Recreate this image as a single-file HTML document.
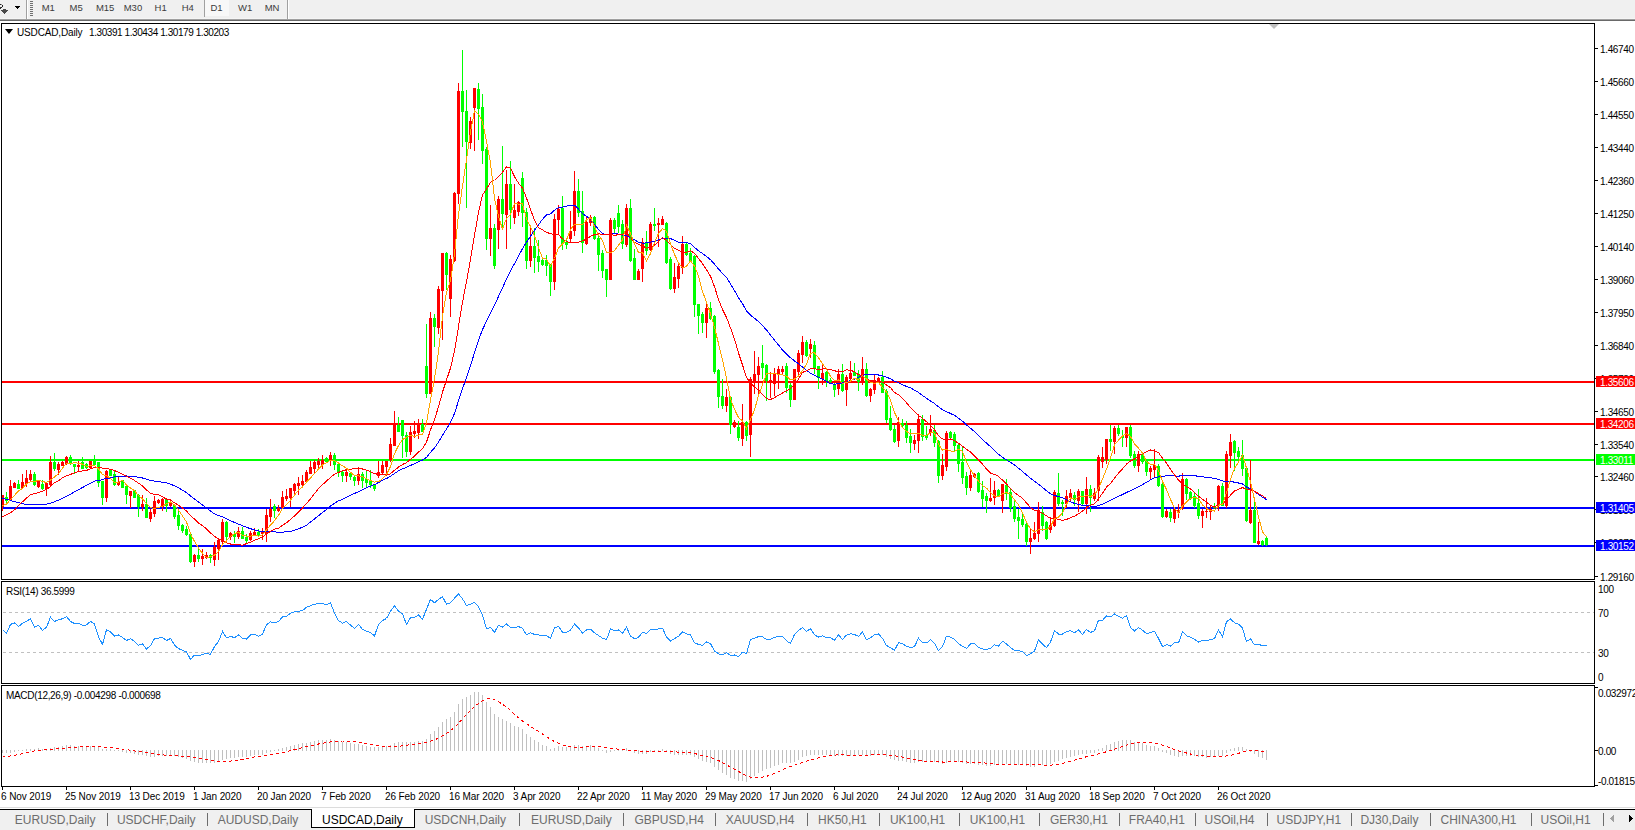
<!DOCTYPE html>
<html><head><meta charset="utf-8"><style>
html,body{margin:0;padding:0;width:1635px;height:830px;overflow:hidden;background:#fff;position:relative;font-family:"Liberation Sans", sans-serif}
.tbl{position:absolute;top:2px;font-size:9.5px;line-height:12px;color:#3c3c3c;white-space:nowrap}
.ax{position:absolute;font-size:10px;line-height:12px;color:#000;white-space:nowrap}
.tab{position:absolute;top:813px;font-size:12px;line-height:15px;white-space:nowrap}
</style></head><body>
<div style="position:absolute;left:0px;top:0px;width:1635px;height:19px;background:#f0f0f0;"></div><div style="position:absolute;left:0px;top:18px;width:1635px;height:1px;background:#f5f5f5;"></div><div style="position:absolute;left:0px;top:19px;width:1635px;height:1px;background:#a0a0a0;"></div><div style="position:absolute;left:0px;top:20px;width:1635px;height:1px;background:#696969;"></div><div style="position:absolute;left:0px;top:21px;width:1635px;height:2px;background:#ffffff;"></div><div style="position:absolute;left:26px;top:0px;width:1px;height:19px;background:#a0a0a0;"></div><div style="position:absolute;left:27px;top:0px;width:1px;height:19px;background:#ffffff;"></div><div style="position:absolute;left:287px;top:0px;width:1px;height:19px;background:#a0a0a0;"></div><div style="position:absolute;left:288px;top:0px;width:1px;height:19px;background:#ffffff;"></div><div style="position:absolute;left:204px;top:0px;width:1px;height:17px;background:#a0a0a0;"></div><div style="position:absolute;left:205px;top:0px;width:24px;height:16px;background:#f8f8f8;"></div><div style="position:absolute;left:30px;top:1px;width:3px;height:1px;background:#707070;"></div><div style="position:absolute;left:30px;top:3px;width:3px;height:1px;background:#707070;"></div><div style="position:absolute;left:30px;top:5px;width:3px;height:1px;background:#707070;"></div><div style="position:absolute;left:30px;top:7px;width:3px;height:1px;background:#707070;"></div><div style="position:absolute;left:30px;top:9px;width:3px;height:1px;background:#707070;"></div><div style="position:absolute;left:30px;top:11px;width:3px;height:1px;background:#707070;"></div><div style="position:absolute;left:30px;top:13px;width:3px;height:1px;background:#707070;"></div><div style="position:absolute;left:30px;top:15px;width:3px;height:1px;background:#707070;"></div><div style="position:absolute;left:15px;top:6px;width:5px;height:1px;background:#000;"></div><div style="position:absolute;left:16px;top:7px;width:3px;height:1px;background:#000;"></div><div style="position:absolute;left:17px;top:8px;width:1px;height:1px;background:#000;"></div><div style="position:absolute;left:0px;top:4px;width:1px;height:1px;background:#222;"></div><div style="position:absolute;left:1px;top:4px;width:1px;height:1px;background:#888;"></div><div style="position:absolute;left:2px;top:5px;width:1px;height:2px;background:#222;"></div><div style="position:absolute;left:1px;top:7px;width:1px;height:1px;background:#222;"></div><div style="position:absolute;left:0px;top:7px;width:1px;height:2px;background:#333;"></div><div style="position:absolute;left:3px;top:9px;width:3px;height:1px;background:#4a4a4a;"></div><div style="position:absolute;left:1px;top:10px;width:7px;height:1px;background:#4a4a4a;"></div><div style="position:absolute;left:2px;top:11px;width:5px;height:1px;background:#4a4a4a;"></div><div style="position:absolute;left:3px;top:12px;width:3px;height:1px;background:#4a4a4a;"></div><div style="position:absolute;left:4px;top:13px;width:1px;height:1px;background:#4a4a4a;"></div><div class="tbl" style="left:41.7px">M1</div><div class="tbl" style="left:69.5px">M5</div><div class="tbl" style="left:95.9px">M15</div><div class="tbl" style="left:123.7px">M30</div><div class="tbl" style="left:154.6px">H1</div><div class="tbl" style="left:181.7px">H4</div><div class="tbl" style="left:210.5px">D1</div><div class="tbl" style="left:238.0px">W1</div><div class="tbl" style="left:264.7px">MN</div><div style="position:absolute;left:0px;top:23px;width:1635px;height:764px;background:#ffffff;"></div><div style="position:absolute;left:1px;top:23px;width:1594px;height:1px;background:#000;"></div><div style="position:absolute;left:1px;top:579px;width:1594px;height:1px;background:#000;"></div><div style="position:absolute;left:1px;top:23px;width:1px;height:557px;background:#000;"></div><div style="position:absolute;left:1594px;top:23px;width:1px;height:557px;background:#000;"></div><div style="position:absolute;left:1px;top:581px;width:1594px;height:1px;background:#000;"></div><div style="position:absolute;left:1px;top:683px;width:1594px;height:1px;background:#000;"></div><div style="position:absolute;left:1px;top:581px;width:1px;height:103px;background:#000;"></div><div style="position:absolute;left:1594px;top:581px;width:1px;height:103px;background:#000;"></div><div style="position:absolute;left:1px;top:685px;width:1594px;height:1px;background:#000;"></div><div style="position:absolute;left:1px;top:786px;width:1594px;height:1px;background:#000;"></div><div style="position:absolute;left:1px;top:685px;width:1px;height:102px;background:#000;"></div><div style="position:absolute;left:1594px;top:685px;width:1px;height:102px;background:#000;"></div><div style="position:absolute;left:2px;top:787px;width:1px;height:3px;background:#000;"></div><div class="ax" style="left:1px;top:791px;letter-spacing:-0.1px">6 Nov 2019</div><div style="position:absolute;left:66px;top:787px;width:1px;height:3px;background:#000;"></div><div class="ax" style="left:65px;top:791px;letter-spacing:-0.1px">25 Nov 2019</div><div style="position:absolute;left:130px;top:787px;width:1px;height:3px;background:#000;"></div><div class="ax" style="left:129px;top:791px;letter-spacing:-0.1px">13 Dec 2019</div><div style="position:absolute;left:194px;top:787px;width:1px;height:3px;background:#000;"></div><div class="ax" style="left:193px;top:791px;letter-spacing:-0.1px">1 Jan 2020</div><div style="position:absolute;left:258px;top:787px;width:1px;height:3px;background:#000;"></div><div class="ax" style="left:257px;top:791px;letter-spacing:-0.1px">20 Jan 2020</div><div style="position:absolute;left:322px;top:787px;width:1px;height:3px;background:#000;"></div><div class="ax" style="left:321px;top:791px;letter-spacing:-0.1px">7 Feb 2020</div><div style="position:absolute;left:386px;top:787px;width:1px;height:3px;background:#000;"></div><div class="ax" style="left:385px;top:791px;letter-spacing:-0.1px">26 Feb 2020</div><div style="position:absolute;left:450px;top:787px;width:1px;height:3px;background:#000;"></div><div class="ax" style="left:449px;top:791px;letter-spacing:-0.1px">16 Mar 2020</div><div style="position:absolute;left:514px;top:787px;width:1px;height:3px;background:#000;"></div><div class="ax" style="left:513px;top:791px;letter-spacing:-0.1px">3 Apr 2020</div><div style="position:absolute;left:578px;top:787px;width:1px;height:3px;background:#000;"></div><div class="ax" style="left:577px;top:791px;letter-spacing:-0.1px">22 Apr 2020</div><div style="position:absolute;left:642px;top:787px;width:1px;height:3px;background:#000;"></div><div class="ax" style="left:641px;top:791px;letter-spacing:-0.1px">11 May 2020</div><div style="position:absolute;left:706px;top:787px;width:1px;height:3px;background:#000;"></div><div class="ax" style="left:705px;top:791px;letter-spacing:-0.1px">29 May 2020</div><div style="position:absolute;left:770px;top:787px;width:1px;height:3px;background:#000;"></div><div class="ax" style="left:769px;top:791px;letter-spacing:-0.1px">17 Jun 2020</div><div style="position:absolute;left:834px;top:787px;width:1px;height:3px;background:#000;"></div><div class="ax" style="left:833px;top:791px;letter-spacing:-0.1px">6 Jul 2020</div><div style="position:absolute;left:898px;top:787px;width:1px;height:3px;background:#000;"></div><div class="ax" style="left:897px;top:791px;letter-spacing:-0.1px">24 Jul 2020</div><div style="position:absolute;left:962px;top:787px;width:1px;height:3px;background:#000;"></div><div class="ax" style="left:961px;top:791px;letter-spacing:-0.1px">12 Aug 2020</div><div style="position:absolute;left:1026px;top:787px;width:1px;height:3px;background:#000;"></div><div class="ax" style="left:1025px;top:791px;letter-spacing:-0.1px">31 Aug 2020</div><div style="position:absolute;left:1090px;top:787px;width:1px;height:3px;background:#000;"></div><div class="ax" style="left:1089px;top:791px;letter-spacing:-0.1px">18 Sep 2020</div><div style="position:absolute;left:1154px;top:787px;width:1px;height:3px;background:#000;"></div><div class="ax" style="left:1153px;top:791px;letter-spacing:-0.1px">7 Oct 2020</div><div style="position:absolute;left:1218px;top:787px;width:1px;height:3px;background:#000;"></div><div class="ax" style="left:1217px;top:791px;letter-spacing:-0.1px">26 Oct 2020</div><div style="position:absolute;left:1595px;top:48px;width:3px;height:1px;background:#000;"></div><div class="ax" style="left:1600px;top:44px;letter-spacing:-0.35px">1.46740</div><div style="position:absolute;left:1595px;top:81px;width:3px;height:1px;background:#000;"></div><div class="ax" style="left:1600px;top:77px;letter-spacing:-0.35px">1.45660</div><div style="position:absolute;left:1595px;top:114px;width:3px;height:1px;background:#000;"></div><div class="ax" style="left:1600px;top:110px;letter-spacing:-0.35px">1.44550</div><div style="position:absolute;left:1595px;top:147px;width:3px;height:1px;background:#000;"></div><div class="ax" style="left:1600px;top:143px;letter-spacing:-0.35px">1.43440</div><div style="position:absolute;left:1595px;top:180px;width:3px;height:1px;background:#000;"></div><div class="ax" style="left:1600px;top:176px;letter-spacing:-0.35px">1.42360</div><div style="position:absolute;left:1595px;top:213px;width:3px;height:1px;background:#000;"></div><div class="ax" style="left:1600px;top:209px;letter-spacing:-0.35px">1.41250</div><div style="position:absolute;left:1595px;top:246px;width:3px;height:1px;background:#000;"></div><div class="ax" style="left:1600px;top:242px;letter-spacing:-0.35px">1.40140</div><div style="position:absolute;left:1595px;top:279px;width:3px;height:1px;background:#000;"></div><div class="ax" style="left:1600px;top:275px;letter-spacing:-0.35px">1.39060</div><div style="position:absolute;left:1595px;top:312px;width:3px;height:1px;background:#000;"></div><div class="ax" style="left:1600px;top:308px;letter-spacing:-0.35px">1.37950</div><div style="position:absolute;left:1595px;top:345px;width:3px;height:1px;background:#000;"></div><div class="ax" style="left:1600px;top:341px;letter-spacing:-0.35px">1.36840</div><div style="position:absolute;left:1595px;top:378px;width:3px;height:1px;background:#000;"></div><div class="ax" style="left:1600px;top:374px;letter-spacing:-0.35px">1.35730</div><div style="position:absolute;left:1595px;top:411px;width:3px;height:1px;background:#000;"></div><div class="ax" style="left:1600px;top:407px;letter-spacing:-0.35px">1.34650</div><div style="position:absolute;left:1595px;top:444px;width:3px;height:1px;background:#000;"></div><div class="ax" style="left:1600px;top:440px;letter-spacing:-0.35px">1.33540</div><div style="position:absolute;left:1595px;top:476px;width:3px;height:1px;background:#000;"></div><div class="ax" style="left:1600px;top:472px;letter-spacing:-0.35px">1.32460</div><div style="position:absolute;left:1595px;top:509px;width:3px;height:1px;background:#000;"></div><div class="ax" style="left:1600px;top:505px;letter-spacing:-0.35px">1.31380</div><div style="position:absolute;left:1595px;top:542px;width:3px;height:1px;background:#000;"></div><div class="ax" style="left:1600px;top:538px;letter-spacing:-0.35px">1.30270</div><div style="position:absolute;left:1595px;top:576px;width:3px;height:1px;background:#000;"></div><div class="ax" style="left:1600px;top:572px;letter-spacing:-0.35px">1.29160</div><div style="position:absolute;left:1596px;top:376px;width:39px;height:11px;background:#ff0000;"></div><div class="ax" style="left:1600px;top:377px;color:#fff;letter-spacing:-0.35px">1.35606</div><div style="position:absolute;left:1596px;top:418px;width:39px;height:11px;background:#ff0000;"></div><div class="ax" style="left:1600px;top:419px;color:#fff;letter-spacing:-0.35px">1.34206</div><div style="position:absolute;left:1596px;top:454px;width:39px;height:11px;background:#00ff00;"></div><div class="ax" style="left:1600px;top:455px;color:#fff;letter-spacing:-0.35px">1.33011</div><div style="position:absolute;left:1596px;top:502px;width:39px;height:11px;background:#0000ff;"></div><div class="ax" style="left:1600px;top:503px;color:#fff;letter-spacing:-0.35px">1.31405</div><div style="position:absolute;left:1596px;top:540px;width:39px;height:11px;background:#0000ff;"></div><div class="ax" style="left:1600px;top:541px;color:#fff;letter-spacing:-0.35px">1.30152</div><div class="ax" style="left:1598px;top:584px;letter-spacing:-0.35px">100</div><div class="ax" style="left:1598px;top:608px;letter-spacing:-0.35px">70</div><div class="ax" style="left:1598px;top:648px;letter-spacing:-0.35px">30</div><div class="ax" style="left:1598px;top:672px;letter-spacing:-0.35px">0</div><div class="ax" style="left:1598px;top:688px;letter-spacing:-0.35px">0.032972</div><div class="ax" style="left:1598px;top:746px;letter-spacing:-0.35px">0.00</div><div class="ax" style="left:1598px;top:776px;letter-spacing:-0.35px">-0.018154</div><div style="position:absolute;left:1595px;top:750px;width:3px;height:1px;background:#000;"></div><div style="position:absolute;left:1595px;top:687px;width:3px;height:1px;background:#000;"></div><div style="position:absolute;left:1595px;top:785px;width:3px;height:1px;background:#000;"></div><div style="position:absolute;left:5px;top:29px;width:0;height:0;border-left:4px solid transparent;border-right:4px solid transparent;border-top:5px solid #000"></div><div class="ax" style="left:17px;top:27px;letter-spacing:-0.15px">USDCAD,Daily</div><div class="ax" style="left:89px;top:27px;letter-spacing:-0.42px">1.30391 1.30434 1.30179 1.30203</div><div class="ax" style="left:6px;top:586px;letter-spacing:-0.32px">RSI(14) 36.5999</div><div class="ax" style="left:6px;top:690px;letter-spacing:-0.32px">MACD(12,26,9) -0.004298 -0.000698</div><div style="position:absolute;left:1269px;top:24px;width:0;height:0;border-left:5px solid transparent;border-right:5px solid transparent;border-top:5px solid #c0c0c0"></div><div style="position:absolute;left:0px;top:806px;width:1635px;height:24px;background:#f0f0f0;"></div><div style="position:absolute;left:0px;top:805px;width:1635px;height:2px;background:#ffffff;"></div><div style="position:absolute;left:0px;top:807px;width:1635px;height:1px;background:#dcdcdc;"></div><div style="position:absolute;left:0px;top:809px;width:1635px;height:1px;background:#000;"></div><div style="position:absolute;left:0px;top:808px;width:1635px;height:1px;background:#ffffff;"></div><div style="position:absolute;left:107px;top:813px;width:1px;height:13px;background:#6d6d6d;"></div><div style="position:absolute;left:207px;top:813px;width:1px;height:13px;background:#6d6d6d;"></div><div style="position:absolute;left:519px;top:813px;width:1px;height:13px;background:#6d6d6d;"></div><div style="position:absolute;left:623px;top:813px;width:1px;height:13px;background:#6d6d6d;"></div><div style="position:absolute;left:715px;top:813px;width:1px;height:13px;background:#6d6d6d;"></div><div style="position:absolute;left:807px;top:813px;width:1px;height:13px;background:#6d6d6d;"></div><div style="position:absolute;left:879px;top:813px;width:1px;height:13px;background:#6d6d6d;"></div><div style="position:absolute;left:959px;top:813px;width:1px;height:13px;background:#6d6d6d;"></div><div style="position:absolute;left:1039px;top:813px;width:1px;height:13px;background:#6d6d6d;"></div><div style="position:absolute;left:1119px;top:813px;width:1px;height:13px;background:#6d6d6d;"></div><div style="position:absolute;left:1195px;top:813px;width:1px;height:13px;background:#6d6d6d;"></div><div style="position:absolute;left:1267px;top:813px;width:1px;height:13px;background:#6d6d6d;"></div><div style="position:absolute;left:1351px;top:813px;width:1px;height:13px;background:#6d6d6d;"></div><div style="position:absolute;left:1430px;top:813px;width:1px;height:13px;background:#6d6d6d;"></div><div style="position:absolute;left:1531px;top:813px;width:1px;height:13px;background:#6d6d6d;"></div><div style="position:absolute;left:1603px;top:813px;width:1px;height:13px;background:#6d6d6d;"></div><div style="position:absolute;left:311px;top:809px;width:104px;height:19px;background:#ffffff;"></div><div style="position:absolute;left:311px;top:809px;width:1px;height:19px;background:#000;"></div><div style="position:absolute;left:414px;top:809px;width:1px;height:19px;background:#000;"></div><div style="position:absolute;left:311px;top:827px;width:104px;height:1px;background:#000;"></div><div style="position:absolute;left:312px;top:809px;width:102px;height:1px;background:#ffffff;"></div><div class="tab" style="left:14.8px;color:#6d6d6d">EURUSD,Daily</div><div class="tab" style="left:116.9px;color:#6d6d6d">USDCHF,Daily</div><div class="tab" style="left:217.7px;color:#6d6d6d">AUDUSD,Daily</div><div class="tab" style="left:322.0px;color:#000">USDCAD,Daily</div><div class="tab" style="left:424.7px;color:#6d6d6d">USDCNH,Daily</div><div class="tab" style="left:531.0px;color:#6d6d6d">EURUSD,Daily</div><div class="tab" style="left:634.5px;color:#6d6d6d">GBPUSD,H4</div><div class="tab" style="left:725.7px;color:#6d6d6d">XAUUSD,H4</div><div class="tab" style="left:818.0px;color:#6d6d6d">HK50,H1</div><div class="tab" style="left:889.9px;color:#6d6d6d">UK100,H1</div><div class="tab" style="left:969.8px;color:#6d6d6d">UK100,H1</div><div class="tab" style="left:1049.9px;color:#6d6d6d">GER30,H1</div><div class="tab" style="left:1128.8px;color:#6d6d6d">FRA40,H1</div><div class="tab" style="left:1204.5px;color:#6d6d6d">USOil,H4</div><div class="tab" style="left:1276.6px;color:#6d6d6d">USDJPY,H1</div><div class="tab" style="left:1360.4px;color:#6d6d6d">DJ30,Daily</div><div class="tab" style="left:1440.5px;color:#6d6d6d">CHINA300,H1</div><div class="tab" style="left:1540.6px;color:#6d6d6d">USOil,H1</div><div style="position:absolute;left:1613px;top:815px;width:1px;height:7px;background:#a0a0a0;"></div><div style="position:absolute;left:1629px;top:815px;width:1px;height:7px;background:#000;"></div><div style="position:absolute;left:1612px;top:816px;width:1px;height:5px;background:#a0a0a0;"></div><div style="position:absolute;left:1630px;top:816px;width:1px;height:5px;background:#000;"></div><div style="position:absolute;left:1611px;top:817px;width:1px;height:3px;background:#a0a0a0;"></div><div style="position:absolute;left:1631px;top:817px;width:1px;height:3px;background:#000;"></div><div style="position:absolute;left:1610px;top:818px;width:1px;height:1px;background:#a0a0a0;"></div><div style="position:absolute;left:1632px;top:818px;width:1px;height:1px;background:#000;"></div><svg style="position:absolute;left:0;top:0" width="1635" height="830" shape-rendering="crispEdges">
<defs><clipPath id="cm"><rect x="2" y="24" width="1592" height="555"/></clipPath><clipPath id="cr"><rect x="2" y="582" width="1592" height="101"/></clipPath><clipPath id="cd"><rect x="2" y="686" width="1592" height="100"/></clipPath></defs>
<g clip-path="url(#cm)">
<rect x="2" y="381" width="1592" height="2" fill="#ff0000"/>
<rect x="2" y="423" width="1592" height="2" fill="#ff0000"/>
<rect x="2" y="459" width="1592" height="2" fill="#00ff00"/>
<rect x="2" y="507" width="1592" height="2" fill="#0000ff"/>
<rect x="2" y="545" width="1592" height="2" fill="#0000ff"/>
<rect x="2" y="495" width="1" height="16" fill="#ff0000"/>
<rect x="1" y="495" width="3" height="12" fill="#ff0000"/>
<rect x="6" y="492" width="1" height="12" fill="#00ff00"/>
<rect x="5" y="497" width="3" height="4" fill="#00ff00"/>
<rect x="10" y="480" width="1" height="20" fill="#ff0000"/>
<rect x="9" y="486" width="3" height="14" fill="#ff0000"/>
<rect x="14" y="482" width="1" height="6" fill="#ff0000"/>
<rect x="13" y="483" width="3" height="5" fill="#ff0000"/>
<rect x="18" y="480" width="1" height="9" fill="#00ff00"/>
<rect x="17" y="484" width="3" height="5" fill="#00ff00"/>
<rect x="22" y="474" width="1" height="15" fill="#ff0000"/>
<rect x="21" y="482" width="3" height="6" fill="#ff0000"/>
<rect x="26" y="470" width="1" height="17" fill="#ff0000"/>
<rect x="25" y="478" width="3" height="6" fill="#ff0000"/>
<rect x="30" y="470" width="1" height="12" fill="#ff0000"/>
<rect x="29" y="474" width="3" height="6" fill="#ff0000"/>
<rect x="34" y="472" width="1" height="14" fill="#00ff00"/>
<rect x="33" y="474" width="3" height="11" fill="#00ff00"/>
<rect x="38" y="481" width="1" height="7" fill="#ff0000"/>
<rect x="37" y="481" width="3" height="6" fill="#ff0000"/>
<rect x="42" y="480" width="1" height="10" fill="#00ff00"/>
<rect x="41" y="484" width="3" height="5" fill="#00ff00"/>
<rect x="46" y="483" width="1" height="13" fill="#ff0000"/>
<rect x="45" y="483" width="3" height="6" fill="#ff0000"/>
<rect x="50" y="456" width="1" height="30" fill="#ff0000"/>
<rect x="49" y="462" width="3" height="23" fill="#ff0000"/>
<rect x="54" y="453" width="1" height="18" fill="#00ff00"/>
<rect x="53" y="462" width="3" height="7" fill="#00ff00"/>
<rect x="58" y="462" width="1" height="13" fill="#ff0000"/>
<rect x="57" y="464" width="3" height="6" fill="#ff0000"/>
<rect x="62" y="461" width="1" height="5" fill="#ff0000"/>
<rect x="61" y="462" width="3" height="4" fill="#ff0000"/>
<rect x="66" y="456" width="1" height="9" fill="#ff0000"/>
<rect x="65" y="457" width="3" height="7" fill="#ff0000"/>
<rect x="70" y="455" width="1" height="10" fill="#00ff00"/>
<rect x="69" y="457" width="3" height="7" fill="#00ff00"/>
<rect x="74" y="464" width="1" height="10" fill="#00ff00"/>
<rect x="73" y="464" width="3" height="3" fill="#00ff00"/>
<rect x="78" y="461" width="1" height="10" fill="#ff0000"/>
<rect x="77" y="465" width="3" height="2" fill="#ff0000"/>
<rect x="82" y="457" width="1" height="12" fill="#00ff00"/>
<rect x="81" y="462" width="3" height="7" fill="#00ff00"/>
<rect x="86" y="463" width="1" height="6" fill="#00ff00"/>
<rect x="85" y="464" width="3" height="4" fill="#00ff00"/>
<rect x="90" y="461" width="1" height="8" fill="#ff0000"/>
<rect x="89" y="461" width="3" height="7" fill="#ff0000"/>
<rect x="94" y="455" width="1" height="11" fill="#00ff00"/>
<rect x="93" y="461" width="3" height="4" fill="#00ff00"/>
<rect x="98" y="462" width="1" height="25" fill="#00ff00"/>
<rect x="97" y="462" width="3" height="21" fill="#00ff00"/>
<rect x="102" y="481" width="1" height="24" fill="#00ff00"/>
<rect x="101" y="481" width="3" height="17" fill="#00ff00"/>
<rect x="106" y="470" width="1" height="32" fill="#ff0000"/>
<rect x="105" y="471" width="3" height="27" fill="#ff0000"/>
<rect x="110" y="470" width="1" height="6" fill="#00ff00"/>
<rect x="109" y="470" width="3" height="6" fill="#00ff00"/>
<rect x="114" y="471" width="1" height="15" fill="#00ff00"/>
<rect x="113" y="474" width="3" height="11" fill="#00ff00"/>
<rect x="118" y="477" width="1" height="9" fill="#ff0000"/>
<rect x="117" y="482" width="3" height="3" fill="#ff0000"/>
<rect x="122" y="480" width="1" height="8" fill="#00ff00"/>
<rect x="121" y="480" width="3" height="8" fill="#00ff00"/>
<rect x="126" y="486" width="1" height="18" fill="#00ff00"/>
<rect x="125" y="486" width="3" height="9" fill="#00ff00"/>
<rect x="130" y="491" width="1" height="17" fill="#ff0000"/>
<rect x="129" y="491" width="3" height="5" fill="#ff0000"/>
<rect x="134" y="490" width="1" height="8" fill="#00ff00"/>
<rect x="133" y="490" width="3" height="8" fill="#00ff00"/>
<rect x="138" y="494" width="1" height="23" fill="#00ff00"/>
<rect x="137" y="495" width="3" height="12" fill="#00ff00"/>
<rect x="142" y="495" width="1" height="16" fill="#ff0000"/>
<rect x="141" y="504" width="3" height="3" fill="#ff0000"/>
<rect x="146" y="498" width="1" height="20" fill="#00ff00"/>
<rect x="145" y="504" width="3" height="14" fill="#00ff00"/>
<rect x="150" y="509" width="1" height="13" fill="#ff0000"/>
<rect x="149" y="512" width="3" height="7" fill="#ff0000"/>
<rect x="154" y="496" width="1" height="21" fill="#ff0000"/>
<rect x="153" y="501" width="3" height="13" fill="#ff0000"/>
<rect x="158" y="499" width="1" height="5" fill="#ff0000"/>
<rect x="157" y="500" width="3" height="3" fill="#ff0000"/>
<rect x="162" y="498" width="1" height="13" fill="#ff0000"/>
<rect x="161" y="499" width="3" height="8" fill="#ff0000"/>
<rect x="166" y="499" width="1" height="13" fill="#00ff00"/>
<rect x="165" y="499" width="3" height="7" fill="#00ff00"/>
<rect x="170" y="499" width="1" height="8" fill="#ff0000"/>
<rect x="169" y="502" width="3" height="4" fill="#ff0000"/>
<rect x="174" y="504" width="1" height="15" fill="#00ff00"/>
<rect x="173" y="505" width="3" height="12" fill="#00ff00"/>
<rect x="178" y="511" width="1" height="19" fill="#00ff00"/>
<rect x="177" y="515" width="3" height="11" fill="#00ff00"/>
<rect x="182" y="524" width="1" height="9" fill="#00ff00"/>
<rect x="181" y="525" width="3" height="6" fill="#00ff00"/>
<rect x="186" y="526" width="1" height="10" fill="#00ff00"/>
<rect x="185" y="529" width="3" height="6" fill="#00ff00"/>
<rect x="190" y="534" width="1" height="29" fill="#00ff00"/>
<rect x="189" y="534" width="3" height="28" fill="#00ff00"/>
<rect x="194" y="554" width="1" height="13" fill="#ff0000"/>
<rect x="193" y="555" width="3" height="7" fill="#ff0000"/>
<rect x="198" y="547" width="1" height="15" fill="#00ff00"/>
<rect x="197" y="555" width="3" height="4" fill="#00ff00"/>
<rect x="202" y="549" width="1" height="16" fill="#ff0000"/>
<rect x="201" y="556" width="3" height="3" fill="#ff0000"/>
<rect x="206" y="552" width="1" height="7" fill="#ff0000"/>
<rect x="205" y="555" width="3" height="3" fill="#ff0000"/>
<rect x="210" y="554" width="1" height="9" fill="#00ff00"/>
<rect x="209" y="555" width="3" height="3" fill="#00ff00"/>
<rect x="214" y="542" width="1" height="24" fill="#ff0000"/>
<rect x="213" y="547" width="3" height="13" fill="#ff0000"/>
<rect x="218" y="538" width="1" height="22" fill="#ff0000"/>
<rect x="217" y="540" width="3" height="9" fill="#ff0000"/>
<rect x="222" y="519" width="1" height="26" fill="#ff0000"/>
<rect x="221" y="522" width="3" height="20" fill="#ff0000"/>
<rect x="226" y="521" width="1" height="21" fill="#00ff00"/>
<rect x="225" y="522" width="3" height="15" fill="#00ff00"/>
<rect x="230" y="532" width="1" height="8" fill="#ff0000"/>
<rect x="229" y="533" width="3" height="4" fill="#ff0000"/>
<rect x="234" y="531" width="1" height="12" fill="#00ff00"/>
<rect x="233" y="534" width="3" height="3" fill="#00ff00"/>
<rect x="238" y="527" width="1" height="12" fill="#ff0000"/>
<rect x="237" y="531" width="3" height="6" fill="#ff0000"/>
<rect x="242" y="527" width="1" height="12" fill="#00ff00"/>
<rect x="241" y="531" width="3" height="8" fill="#00ff00"/>
<rect x="246" y="534" width="1" height="9" fill="#00ff00"/>
<rect x="245" y="537" width="3" height="4" fill="#00ff00"/>
<rect x="250" y="531" width="1" height="10" fill="#ff0000"/>
<rect x="249" y="533" width="3" height="7" fill="#ff0000"/>
<rect x="254" y="528" width="1" height="7" fill="#ff0000"/>
<rect x="253" y="532" width="3" height="3" fill="#ff0000"/>
<rect x="258" y="529" width="1" height="8" fill="#00ff00"/>
<rect x="257" y="532" width="3" height="4" fill="#00ff00"/>
<rect x="262" y="528" width="1" height="12" fill="#ff0000"/>
<rect x="261" y="532" width="3" height="2" fill="#ff0000"/>
<rect x="266" y="509" width="1" height="33" fill="#ff0000"/>
<rect x="265" y="515" width="3" height="19" fill="#ff0000"/>
<rect x="270" y="499" width="1" height="23" fill="#ff0000"/>
<rect x="269" y="509" width="3" height="8" fill="#ff0000"/>
<rect x="274" y="504" width="1" height="14" fill="#00ff00"/>
<rect x="273" y="506" width="3" height="5" fill="#00ff00"/>
<rect x="278" y="505" width="1" height="7" fill="#ff0000"/>
<rect x="277" y="508" width="3" height="3" fill="#ff0000"/>
<rect x="282" y="491" width="1" height="18" fill="#ff0000"/>
<rect x="281" y="497" width="3" height="11" fill="#ff0000"/>
<rect x="286" y="489" width="1" height="12" fill="#ff0000"/>
<rect x="285" y="496" width="3" height="3" fill="#ff0000"/>
<rect x="290" y="488" width="1" height="19" fill="#ff0000"/>
<rect x="289" y="488" width="3" height="10" fill="#ff0000"/>
<rect x="294" y="483" width="1" height="12" fill="#ff0000"/>
<rect x="293" y="484" width="3" height="7" fill="#ff0000"/>
<rect x="298" y="477" width="1" height="18" fill="#ff0000"/>
<rect x="297" y="483" width="3" height="3" fill="#ff0000"/>
<rect x="302" y="475" width="1" height="12" fill="#ff0000"/>
<rect x="301" y="481" width="3" height="4" fill="#ff0000"/>
<rect x="306" y="470" width="1" height="12" fill="#ff0000"/>
<rect x="305" y="472" width="3" height="10" fill="#ff0000"/>
<rect x="310" y="461" width="1" height="13" fill="#ff0000"/>
<rect x="309" y="467" width="3" height="7" fill="#ff0000"/>
<rect x="314" y="460" width="1" height="14" fill="#ff0000"/>
<rect x="313" y="462" width="3" height="7" fill="#ff0000"/>
<rect x="318" y="458" width="1" height="12" fill="#ff0000"/>
<rect x="317" y="461" width="3" height="4" fill="#ff0000"/>
<rect x="322" y="455" width="1" height="14" fill="#ff0000"/>
<rect x="321" y="460" width="3" height="5" fill="#ff0000"/>
<rect x="326" y="457" width="1" height="6" fill="#00ff00"/>
<rect x="325" y="458" width="3" height="4" fill="#00ff00"/>
<rect x="330" y="452" width="1" height="14" fill="#ff0000"/>
<rect x="329" y="455" width="3" height="5" fill="#ff0000"/>
<rect x="334" y="453" width="1" height="17" fill="#00ff00"/>
<rect x="333" y="455" width="3" height="10" fill="#00ff00"/>
<rect x="338" y="463" width="1" height="14" fill="#00ff00"/>
<rect x="337" y="464" width="3" height="9" fill="#00ff00"/>
<rect x="342" y="471" width="1" height="11" fill="#00ff00"/>
<rect x="341" y="472" width="3" height="4" fill="#00ff00"/>
<rect x="346" y="470" width="1" height="12" fill="#ff0000"/>
<rect x="345" y="472" width="3" height="4" fill="#ff0000"/>
<rect x="350" y="472" width="1" height="8" fill="#00ff00"/>
<rect x="349" y="473" width="3" height="4" fill="#00ff00"/>
<rect x="354" y="476" width="1" height="10" fill="#00ff00"/>
<rect x="353" y="477" width="3" height="4" fill="#00ff00"/>
<rect x="358" y="467" width="1" height="18" fill="#ff0000"/>
<rect x="357" y="474" width="3" height="7" fill="#ff0000"/>
<rect x="362" y="472" width="1" height="16" fill="#00ff00"/>
<rect x="361" y="474" width="3" height="7" fill="#00ff00"/>
<rect x="366" y="471" width="1" height="17" fill="#00ff00"/>
<rect x="365" y="479" width="3" height="4" fill="#00ff00"/>
<rect x="370" y="470" width="1" height="18" fill="#00ff00"/>
<rect x="369" y="481" width="3" height="4" fill="#00ff00"/>
<rect x="374" y="484" width="1" height="7" fill="#00ff00"/>
<rect x="373" y="484" width="3" height="5" fill="#00ff00"/>
<rect x="378" y="461" width="1" height="17" fill="#ff0000"/>
<rect x="377" y="472" width="3" height="4" fill="#ff0000"/>
<rect x="382" y="461" width="1" height="13" fill="#ff0000"/>
<rect x="381" y="465" width="3" height="8" fill="#ff0000"/>
<rect x="386" y="461" width="1" height="12" fill="#ff0000"/>
<rect x="385" y="461" width="3" height="6" fill="#ff0000"/>
<rect x="390" y="438" width="1" height="24" fill="#ff0000"/>
<rect x="389" y="444" width="3" height="16" fill="#ff0000"/>
<rect x="394" y="411" width="1" height="35" fill="#ff0000"/>
<rect x="393" y="424" width="3" height="22" fill="#ff0000"/>
<rect x="398" y="417" width="1" height="15" fill="#00ff00"/>
<rect x="397" y="425" width="3" height="7" fill="#00ff00"/>
<rect x="402" y="420" width="1" height="38" fill="#00ff00"/>
<rect x="401" y="420" width="3" height="16" fill="#00ff00"/>
<rect x="406" y="432" width="1" height="25" fill="#00ff00"/>
<rect x="405" y="435" width="3" height="17" fill="#00ff00"/>
<rect x="410" y="426" width="1" height="29" fill="#ff0000"/>
<rect x="409" y="432" width="3" height="20" fill="#ff0000"/>
<rect x="414" y="421" width="1" height="17" fill="#ff0000"/>
<rect x="413" y="431" width="3" height="3" fill="#ff0000"/>
<rect x="418" y="419" width="1" height="20" fill="#ff0000"/>
<rect x="417" y="424" width="3" height="9" fill="#ff0000"/>
<rect x="422" y="419" width="1" height="13" fill="#00ff00"/>
<rect x="421" y="424" width="3" height="8" fill="#00ff00"/>
<rect x="426" y="324" width="1" height="74" fill="#00ff00"/>
<rect x="425" y="366" width="3" height="28" fill="#00ff00"/>
<rect x="430" y="312" width="1" height="82" fill="#ff0000"/>
<rect x="429" y="318" width="3" height="76" fill="#ff0000"/>
<rect x="434" y="314" width="1" height="33" fill="#00ff00"/>
<rect x="433" y="318" width="3" height="9" fill="#00ff00"/>
<rect x="438" y="286" width="1" height="48" fill="#ff0000"/>
<rect x="437" y="289" width="3" height="39" fill="#ff0000"/>
<rect x="442" y="253" width="1" height="87" fill="#ff0000"/>
<rect x="441" y="253" width="3" height="38" fill="#ff0000"/>
<rect x="446" y="252" width="1" height="38" fill="#00ff00"/>
<rect x="445" y="253" width="3" height="22" fill="#00ff00"/>
<rect x="450" y="255" width="1" height="62" fill="#ff0000"/>
<rect x="449" y="259" width="3" height="40" fill="#ff0000"/>
<rect x="454" y="192" width="1" height="70" fill="#ff0000"/>
<rect x="453" y="193" width="3" height="68" fill="#ff0000"/>
<rect x="458" y="83" width="1" height="121" fill="#ff0000"/>
<rect x="457" y="91" width="3" height="103" fill="#ff0000"/>
<rect x="462" y="50" width="1" height="97" fill="#00ff00"/>
<rect x="461" y="91" width="3" height="21" fill="#00ff00"/>
<rect x="466" y="90" width="1" height="118" fill="#00ff00"/>
<rect x="465" y="111" width="3" height="31" fill="#00ff00"/>
<rect x="470" y="117" width="1" height="32" fill="#ff0000"/>
<rect x="469" y="121" width="3" height="22" fill="#ff0000"/>
<rect x="474" y="88" width="1" height="63" fill="#ff0000"/>
<rect x="473" y="88" width="3" height="20" fill="#ff0000"/>
<rect x="478" y="83" width="1" height="57" fill="#00ff00"/>
<rect x="477" y="89" width="3" height="20" fill="#00ff00"/>
<rect x="482" y="94" width="1" height="70" fill="#00ff00"/>
<rect x="481" y="107" width="3" height="44" fill="#00ff00"/>
<rect x="486" y="147" width="1" height="103" fill="#00ff00"/>
<rect x="485" y="149" width="3" height="90" fill="#00ff00"/>
<rect x="490" y="205" width="1" height="51" fill="#ff0000"/>
<rect x="489" y="228" width="3" height="11" fill="#ff0000"/>
<rect x="494" y="224" width="1" height="45" fill="#00ff00"/>
<rect x="493" y="228" width="3" height="38" fill="#00ff00"/>
<rect x="498" y="196" width="1" height="53" fill="#ff0000"/>
<rect x="497" y="199" width="3" height="31" fill="#ff0000"/>
<rect x="502" y="146" width="1" height="84" fill="#00ff00"/>
<rect x="501" y="199" width="3" height="15" fill="#00ff00"/>
<rect x="506" y="170" width="1" height="79" fill="#ff0000"/>
<rect x="505" y="184" width="3" height="31" fill="#ff0000"/>
<rect x="510" y="161" width="1" height="68" fill="#00ff00"/>
<rect x="509" y="184" width="3" height="26" fill="#00ff00"/>
<rect x="514" y="184" width="1" height="40" fill="#ff0000"/>
<rect x="513" y="210" width="3" height="8" fill="#ff0000"/>
<rect x="518" y="201" width="1" height="15" fill="#ff0000"/>
<rect x="517" y="202" width="3" height="10" fill="#ff0000"/>
<rect x="522" y="172" width="1" height="55" fill="#00ff00"/>
<rect x="521" y="178" width="3" height="35" fill="#00ff00"/>
<rect x="526" y="208" width="1" height="61" fill="#00ff00"/>
<rect x="525" y="212" width="3" height="49" fill="#00ff00"/>
<rect x="530" y="228" width="1" height="39" fill="#ff0000"/>
<rect x="529" y="246" width="3" height="15" fill="#ff0000"/>
<rect x="534" y="228" width="1" height="45" fill="#00ff00"/>
<rect x="533" y="246" width="3" height="12" fill="#00ff00"/>
<rect x="538" y="240" width="1" height="32" fill="#00ff00"/>
<rect x="537" y="256" width="3" height="6" fill="#00ff00"/>
<rect x="542" y="259" width="1" height="7" fill="#00ff00"/>
<rect x="541" y="260" width="3" height="5" fill="#00ff00"/>
<rect x="546" y="255" width="1" height="21" fill="#00ff00"/>
<rect x="545" y="260" width="3" height="6" fill="#00ff00"/>
<rect x="550" y="264" width="1" height="32" fill="#00ff00"/>
<rect x="549" y="265" width="3" height="17" fill="#00ff00"/>
<rect x="554" y="214" width="1" height="76" fill="#ff0000"/>
<rect x="553" y="219" width="3" height="63" fill="#ff0000"/>
<rect x="558" y="205" width="1" height="30" fill="#ff0000"/>
<rect x="557" y="209" width="3" height="11" fill="#ff0000"/>
<rect x="562" y="196" width="1" height="54" fill="#00ff00"/>
<rect x="561" y="208" width="3" height="36" fill="#00ff00"/>
<rect x="566" y="239" width="1" height="10" fill="#00ff00"/>
<rect x="565" y="242" width="3" height="3" fill="#00ff00"/>
<rect x="570" y="211" width="1" height="31" fill="#ff0000"/>
<rect x="569" y="231" width="3" height="8" fill="#ff0000"/>
<rect x="574" y="171" width="1" height="65" fill="#ff0000"/>
<rect x="573" y="191" width="3" height="40" fill="#ff0000"/>
<rect x="578" y="179" width="1" height="38" fill="#00ff00"/>
<rect x="577" y="191" width="3" height="22" fill="#00ff00"/>
<rect x="582" y="191" width="1" height="62" fill="#00ff00"/>
<rect x="581" y="211" width="3" height="32" fill="#00ff00"/>
<rect x="586" y="217" width="1" height="28" fill="#ff0000"/>
<rect x="585" y="222" width="3" height="22" fill="#ff0000"/>
<rect x="590" y="215" width="1" height="11" fill="#ff0000"/>
<rect x="589" y="217" width="3" height="6" fill="#ff0000"/>
<rect x="594" y="216" width="1" height="24" fill="#00ff00"/>
<rect x="593" y="217" width="3" height="22" fill="#00ff00"/>
<rect x="598" y="235" width="1" height="36" fill="#00ff00"/>
<rect x="597" y="238" width="3" height="17" fill="#00ff00"/>
<rect x="602" y="250" width="1" height="28" fill="#00ff00"/>
<rect x="601" y="253" width="3" height="18" fill="#00ff00"/>
<rect x="606" y="269" width="1" height="28" fill="#00ff00"/>
<rect x="605" y="269" width="3" height="11" fill="#00ff00"/>
<rect x="610" y="218" width="1" height="62" fill="#ff0000"/>
<rect x="609" y="220" width="3" height="60" fill="#ff0000"/>
<rect x="614" y="218" width="1" height="15" fill="#00ff00"/>
<rect x="613" y="220" width="3" height="9" fill="#00ff00"/>
<rect x="618" y="205" width="1" height="28" fill="#00ff00"/>
<rect x="617" y="213" width="3" height="14" fill="#00ff00"/>
<rect x="622" y="220" width="1" height="29" fill="#00ff00"/>
<rect x="621" y="224" width="3" height="20" fill="#00ff00"/>
<rect x="626" y="204" width="1" height="43" fill="#ff0000"/>
<rect x="625" y="208" width="3" height="37" fill="#ff0000"/>
<rect x="630" y="199" width="1" height="63" fill="#00ff00"/>
<rect x="629" y="208" width="3" height="53" fill="#00ff00"/>
<rect x="634" y="249" width="1" height="31" fill="#00ff00"/>
<rect x="633" y="258" width="3" height="22" fill="#00ff00"/>
<rect x="638" y="269" width="1" height="11" fill="#ff0000"/>
<rect x="637" y="271" width="3" height="9" fill="#ff0000"/>
<rect x="642" y="238" width="1" height="44" fill="#ff0000"/>
<rect x="641" y="242" width="3" height="27" fill="#ff0000"/>
<rect x="646" y="231" width="1" height="24" fill="#00ff00"/>
<rect x="645" y="243" width="3" height="8" fill="#00ff00"/>
<rect x="650" y="222" width="1" height="29" fill="#ff0000"/>
<rect x="649" y="224" width="3" height="26" fill="#ff0000"/>
<rect x="654" y="208" width="1" height="23" fill="#00ff00"/>
<rect x="653" y="224" width="3" height="2" fill="#00ff00"/>
<rect x="658" y="218" width="1" height="29" fill="#ff0000"/>
<rect x="657" y="223" width="3" height="2" fill="#ff0000"/>
<rect x="662" y="216" width="1" height="9" fill="#ff0000"/>
<rect x="661" y="219" width="3" height="6" fill="#ff0000"/>
<rect x="666" y="222" width="1" height="42" fill="#00ff00"/>
<rect x="665" y="223" width="3" height="40" fill="#00ff00"/>
<rect x="670" y="257" width="1" height="33" fill="#00ff00"/>
<rect x="669" y="259" width="3" height="30" fill="#00ff00"/>
<rect x="674" y="263" width="1" height="30" fill="#ff0000"/>
<rect x="673" y="277" width="3" height="12" fill="#ff0000"/>
<rect x="678" y="263" width="1" height="25" fill="#ff0000"/>
<rect x="677" y="266" width="3" height="13" fill="#ff0000"/>
<rect x="682" y="236" width="1" height="38" fill="#ff0000"/>
<rect x="681" y="244" width="3" height="24" fill="#ff0000"/>
<rect x="686" y="243" width="1" height="13" fill="#00ff00"/>
<rect x="685" y="244" width="3" height="11" fill="#00ff00"/>
<rect x="690" y="248" width="1" height="14" fill="#00ff00"/>
<rect x="689" y="253" width="3" height="8" fill="#00ff00"/>
<rect x="694" y="255" width="1" height="62" fill="#00ff00"/>
<rect x="693" y="256" width="3" height="49" fill="#00ff00"/>
<rect x="698" y="304" width="1" height="30" fill="#00ff00"/>
<rect x="697" y="304" width="3" height="12" fill="#00ff00"/>
<rect x="702" y="312" width="1" height="21" fill="#00ff00"/>
<rect x="701" y="314" width="3" height="9" fill="#00ff00"/>
<rect x="706" y="302" width="1" height="36" fill="#ff0000"/>
<rect x="705" y="308" width="3" height="15" fill="#ff0000"/>
<rect x="710" y="302" width="1" height="18" fill="#00ff00"/>
<rect x="709" y="308" width="3" height="11" fill="#00ff00"/>
<rect x="714" y="315" width="1" height="59" fill="#00ff00"/>
<rect x="713" y="316" width="3" height="56" fill="#00ff00"/>
<rect x="718" y="369" width="1" height="39" fill="#00ff00"/>
<rect x="717" y="370" width="3" height="27" fill="#00ff00"/>
<rect x="722" y="379" width="1" height="30" fill="#00ff00"/>
<rect x="721" y="396" width="3" height="10" fill="#00ff00"/>
<rect x="726" y="389" width="1" height="23" fill="#ff0000"/>
<rect x="725" y="397" width="3" height="9" fill="#ff0000"/>
<rect x="730" y="396" width="1" height="38" fill="#00ff00"/>
<rect x="729" y="397" width="3" height="28" fill="#00ff00"/>
<rect x="734" y="420" width="1" height="8" fill="#ff0000"/>
<rect x="733" y="422" width="3" height="5" fill="#ff0000"/>
<rect x="738" y="421" width="1" height="20" fill="#00ff00"/>
<rect x="737" y="427" width="3" height="11" fill="#00ff00"/>
<rect x="742" y="404" width="1" height="42" fill="#ff0000"/>
<rect x="741" y="422" width="3" height="17" fill="#ff0000"/>
<rect x="746" y="421" width="1" height="20" fill="#00ff00"/>
<rect x="745" y="422" width="3" height="14" fill="#00ff00"/>
<rect x="750" y="377" width="1" height="80" fill="#ff0000"/>
<rect x="749" y="379" width="3" height="56" fill="#ff0000"/>
<rect x="754" y="351" width="1" height="43" fill="#ff0000"/>
<rect x="753" y="374" width="3" height="8" fill="#ff0000"/>
<rect x="758" y="357" width="1" height="37" fill="#ff0000"/>
<rect x="757" y="366" width="3" height="9" fill="#ff0000"/>
<rect x="762" y="345" width="1" height="34" fill="#00ff00"/>
<rect x="761" y="363" width="3" height="5" fill="#00ff00"/>
<rect x="766" y="364" width="1" height="37" fill="#00ff00"/>
<rect x="765" y="365" width="3" height="16" fill="#00ff00"/>
<rect x="770" y="372" width="1" height="26" fill="#ff0000"/>
<rect x="769" y="380" width="3" height="3" fill="#ff0000"/>
<rect x="774" y="368" width="1" height="28" fill="#ff0000"/>
<rect x="773" y="373" width="3" height="11" fill="#ff0000"/>
<rect x="778" y="366" width="1" height="23" fill="#ff0000"/>
<rect x="777" y="369" width="3" height="6" fill="#ff0000"/>
<rect x="782" y="366" width="1" height="9" fill="#ff0000"/>
<rect x="781" y="369" width="3" height="3" fill="#ff0000"/>
<rect x="786" y="363" width="1" height="30" fill="#00ff00"/>
<rect x="785" y="366" width="3" height="22" fill="#00ff00"/>
<rect x="790" y="383" width="1" height="24" fill="#00ff00"/>
<rect x="789" y="385" width="3" height="15" fill="#00ff00"/>
<rect x="794" y="369" width="1" height="31" fill="#ff0000"/>
<rect x="793" y="369" width="3" height="31" fill="#ff0000"/>
<rect x="798" y="350" width="1" height="25" fill="#ff0000"/>
<rect x="797" y="353" width="3" height="19" fill="#ff0000"/>
<rect x="802" y="336" width="1" height="27" fill="#ff0000"/>
<rect x="801" y="342" width="3" height="13" fill="#ff0000"/>
<rect x="806" y="340" width="1" height="17" fill="#00ff00"/>
<rect x="805" y="342" width="3" height="14" fill="#00ff00"/>
<rect x="810" y="339" width="1" height="19" fill="#ff0000"/>
<rect x="809" y="344" width="3" height="5" fill="#ff0000"/>
<rect x="814" y="341" width="1" height="33" fill="#00ff00"/>
<rect x="813" y="345" width="3" height="24" fill="#00ff00"/>
<rect x="818" y="366" width="1" height="23" fill="#00ff00"/>
<rect x="817" y="366" width="3" height="12" fill="#00ff00"/>
<rect x="822" y="364" width="1" height="21" fill="#ff0000"/>
<rect x="821" y="373" width="3" height="6" fill="#ff0000"/>
<rect x="826" y="371" width="1" height="16" fill="#00ff00"/>
<rect x="825" y="372" width="3" height="9" fill="#00ff00"/>
<rect x="830" y="378" width="1" height="6" fill="#00ff00"/>
<rect x="829" y="380" width="3" height="2" fill="#00ff00"/>
<rect x="834" y="383" width="1" height="14" fill="#00ff00"/>
<rect x="833" y="384" width="3" height="6" fill="#00ff00"/>
<rect x="838" y="369" width="1" height="26" fill="#ff0000"/>
<rect x="837" y="374" width="3" height="15" fill="#ff0000"/>
<rect x="842" y="364" width="1" height="28" fill="#00ff00"/>
<rect x="841" y="374" width="3" height="17" fill="#00ff00"/>
<rect x="846" y="375" width="1" height="31" fill="#ff0000"/>
<rect x="845" y="377" width="3" height="13" fill="#ff0000"/>
<rect x="850" y="361" width="1" height="21" fill="#ff0000"/>
<rect x="849" y="373" width="3" height="6" fill="#ff0000"/>
<rect x="854" y="363" width="1" height="13" fill="#00ff00"/>
<rect x="853" y="372" width="3" height="4" fill="#00ff00"/>
<rect x="858" y="370" width="1" height="21" fill="#00ff00"/>
<rect x="857" y="375" width="3" height="7" fill="#00ff00"/>
<rect x="862" y="357" width="1" height="28" fill="#ff0000"/>
<rect x="861" y="369" width="3" height="14" fill="#ff0000"/>
<rect x="866" y="363" width="1" height="34" fill="#00ff00"/>
<rect x="865" y="369" width="3" height="27" fill="#00ff00"/>
<rect x="870" y="388" width="1" height="14" fill="#ff0000"/>
<rect x="869" y="389" width="3" height="7" fill="#ff0000"/>
<rect x="874" y="375" width="1" height="19" fill="#ff0000"/>
<rect x="873" y="380" width="3" height="10" fill="#ff0000"/>
<rect x="878" y="377" width="1" height="4" fill="#ff0000"/>
<rect x="877" y="378" width="3" height="3" fill="#ff0000"/>
<rect x="882" y="371" width="1" height="22" fill="#00ff00"/>
<rect x="881" y="377" width="3" height="16" fill="#00ff00"/>
<rect x="886" y="389" width="1" height="34" fill="#00ff00"/>
<rect x="885" y="391" width="3" height="29" fill="#00ff00"/>
<rect x="890" y="406" width="1" height="25" fill="#00ff00"/>
<rect x="889" y="418" width="3" height="12" fill="#00ff00"/>
<rect x="894" y="425" width="1" height="18" fill="#00ff00"/>
<rect x="893" y="429" width="3" height="13" fill="#00ff00"/>
<rect x="898" y="417" width="1" height="30" fill="#ff0000"/>
<rect x="897" y="422" width="3" height="19" fill="#ff0000"/>
<rect x="902" y="419" width="1" height="8" fill="#00ff00"/>
<rect x="901" y="423" width="3" height="3" fill="#00ff00"/>
<rect x="906" y="421" width="1" height="22" fill="#00ff00"/>
<rect x="905" y="425" width="3" height="13" fill="#00ff00"/>
<rect x="910" y="429" width="1" height="24" fill="#00ff00"/>
<rect x="909" y="436" width="3" height="7" fill="#00ff00"/>
<rect x="914" y="435" width="1" height="15" fill="#ff0000"/>
<rect x="913" y="440" width="3" height="4" fill="#ff0000"/>
<rect x="918" y="414" width="1" height="39" fill="#ff0000"/>
<rect x="917" y="419" width="3" height="22" fill="#ff0000"/>
<rect x="922" y="415" width="1" height="26" fill="#00ff00"/>
<rect x="921" y="419" width="3" height="18" fill="#00ff00"/>
<rect x="926" y="426" width="1" height="14" fill="#00ff00"/>
<rect x="925" y="435" width="3" height="3" fill="#00ff00"/>
<rect x="930" y="415" width="1" height="21" fill="#ff0000"/>
<rect x="929" y="429" width="3" height="4" fill="#ff0000"/>
<rect x="934" y="425" width="1" height="22" fill="#00ff00"/>
<rect x="933" y="430" width="3" height="13" fill="#00ff00"/>
<rect x="938" y="440" width="1" height="43" fill="#00ff00"/>
<rect x="937" y="441" width="3" height="35" fill="#00ff00"/>
<rect x="942" y="454" width="1" height="26" fill="#ff0000"/>
<rect x="941" y="465" width="3" height="11" fill="#ff0000"/>
<rect x="946" y="431" width="1" height="40" fill="#ff0000"/>
<rect x="945" y="433" width="3" height="34" fill="#ff0000"/>
<rect x="950" y="431" width="1" height="9" fill="#00ff00"/>
<rect x="949" y="432" width="3" height="6" fill="#00ff00"/>
<rect x="954" y="432" width="1" height="19" fill="#00ff00"/>
<rect x="953" y="434" width="3" height="12" fill="#00ff00"/>
<rect x="958" y="443" width="1" height="29" fill="#00ff00"/>
<rect x="957" y="445" width="3" height="19" fill="#00ff00"/>
<rect x="962" y="447" width="1" height="37" fill="#00ff00"/>
<rect x="961" y="462" width="3" height="16" fill="#00ff00"/>
<rect x="966" y="472" width="1" height="23" fill="#00ff00"/>
<rect x="965" y="476" width="3" height="12" fill="#00ff00"/>
<rect x="970" y="470" width="1" height="21" fill="#ff0000"/>
<rect x="969" y="475" width="3" height="13" fill="#ff0000"/>
<rect x="974" y="473" width="1" height="5" fill="#ff0000"/>
<rect x="973" y="474" width="3" height="3" fill="#ff0000"/>
<rect x="978" y="472" width="1" height="21" fill="#00ff00"/>
<rect x="977" y="473" width="3" height="19" fill="#00ff00"/>
<rect x="982" y="481" width="1" height="26" fill="#00ff00"/>
<rect x="981" y="490" width="3" height="9" fill="#00ff00"/>
<rect x="986" y="493" width="1" height="20" fill="#00ff00"/>
<rect x="985" y="496" width="3" height="5" fill="#00ff00"/>
<rect x="990" y="478" width="1" height="24" fill="#ff0000"/>
<rect x="989" y="498" width="3" height="3" fill="#ff0000"/>
<rect x="994" y="481" width="1" height="24" fill="#ff0000"/>
<rect x="993" y="490" width="3" height="8" fill="#ff0000"/>
<rect x="998" y="489" width="1" height="8" fill="#00ff00"/>
<rect x="997" y="490" width="3" height="6" fill="#00ff00"/>
<rect x="1002" y="484" width="1" height="29" fill="#ff0000"/>
<rect x="1001" y="484" width="3" height="17" fill="#ff0000"/>
<rect x="1006" y="479" width="1" height="21" fill="#00ff00"/>
<rect x="1005" y="485" width="3" height="9" fill="#00ff00"/>
<rect x="1010" y="489" width="1" height="23" fill="#00ff00"/>
<rect x="1009" y="492" width="3" height="16" fill="#00ff00"/>
<rect x="1014" y="501" width="1" height="21" fill="#00ff00"/>
<rect x="1013" y="506" width="3" height="13" fill="#00ff00"/>
<rect x="1018" y="509" width="1" height="30" fill="#00ff00"/>
<rect x="1017" y="517" width="3" height="4" fill="#00ff00"/>
<rect x="1022" y="514" width="1" height="13" fill="#00ff00"/>
<rect x="1021" y="519" width="3" height="6" fill="#00ff00"/>
<rect x="1026" y="522" width="1" height="24" fill="#00ff00"/>
<rect x="1025" y="524" width="3" height="18" fill="#00ff00"/>
<rect x="1030" y="528" width="1" height="26" fill="#ff0000"/>
<rect x="1029" y="538" width="3" height="4" fill="#ff0000"/>
<rect x="1034" y="522" width="1" height="18" fill="#ff0000"/>
<rect x="1033" y="533" width="3" height="6" fill="#ff0000"/>
<rect x="1038" y="502" width="1" height="40" fill="#ff0000"/>
<rect x="1037" y="510" width="3" height="24" fill="#ff0000"/>
<rect x="1042" y="506" width="1" height="25" fill="#00ff00"/>
<rect x="1041" y="512" width="3" height="14" fill="#00ff00"/>
<rect x="1046" y="521" width="1" height="19" fill="#00ff00"/>
<rect x="1045" y="522" width="3" height="17" fill="#00ff00"/>
<rect x="1050" y="517" width="1" height="16" fill="#ff0000"/>
<rect x="1049" y="525" width="3" height="5" fill="#ff0000"/>
<rect x="1054" y="490" width="1" height="37" fill="#ff0000"/>
<rect x="1053" y="492" width="3" height="34" fill="#ff0000"/>
<rect x="1058" y="473" width="1" height="33" fill="#00ff00"/>
<rect x="1057" y="493" width="3" height="11" fill="#00ff00"/>
<rect x="1062" y="500" width="1" height="16" fill="#00ff00"/>
<rect x="1061" y="502" width="3" height="2" fill="#00ff00"/>
<rect x="1066" y="490" width="1" height="18" fill="#ff0000"/>
<rect x="1065" y="496" width="3" height="8" fill="#ff0000"/>
<rect x="1070" y="489" width="1" height="12" fill="#ff0000"/>
<rect x="1069" y="493" width="3" height="5" fill="#ff0000"/>
<rect x="1074" y="492" width="1" height="14" fill="#00ff00"/>
<rect x="1073" y="495" width="3" height="5" fill="#00ff00"/>
<rect x="1078" y="489" width="1" height="23" fill="#ff0000"/>
<rect x="1077" y="491" width="3" height="10" fill="#ff0000"/>
<rect x="1082" y="491" width="1" height="14" fill="#00ff00"/>
<rect x="1081" y="491" width="3" height="13" fill="#00ff00"/>
<rect x="1086" y="477" width="1" height="37" fill="#ff0000"/>
<rect x="1085" y="489" width="3" height="15" fill="#ff0000"/>
<rect x="1090" y="485" width="1" height="27" fill="#00ff00"/>
<rect x="1089" y="489" width="3" height="9" fill="#00ff00"/>
<rect x="1094" y="488" width="1" height="13" fill="#ff0000"/>
<rect x="1093" y="493" width="3" height="6" fill="#ff0000"/>
<rect x="1098" y="455" width="1" height="46" fill="#ff0000"/>
<rect x="1097" y="457" width="3" height="34" fill="#ff0000"/>
<rect x="1102" y="447" width="1" height="21" fill="#ff0000"/>
<rect x="1101" y="457" width="3" height="5" fill="#ff0000"/>
<rect x="1106" y="439" width="1" height="25" fill="#ff0000"/>
<rect x="1105" y="439" width="3" height="21" fill="#ff0000"/>
<rect x="1110" y="425" width="1" height="26" fill="#00ff00"/>
<rect x="1109" y="439" width="3" height="3" fill="#00ff00"/>
<rect x="1114" y="426" width="1" height="28" fill="#ff0000"/>
<rect x="1113" y="428" width="3" height="14" fill="#ff0000"/>
<rect x="1118" y="425" width="1" height="11" fill="#00ff00"/>
<rect x="1117" y="428" width="3" height="6" fill="#00ff00"/>
<rect x="1122" y="430" width="1" height="17" fill="#00ff00"/>
<rect x="1121" y="436" width="3" height="2" fill="#00ff00"/>
<rect x="1126" y="427" width="1" height="20" fill="#ff0000"/>
<rect x="1125" y="427" width="3" height="11" fill="#ff0000"/>
<rect x="1130" y="425" width="1" height="33" fill="#00ff00"/>
<rect x="1129" y="427" width="3" height="29" fill="#00ff00"/>
<rect x="1134" y="451" width="1" height="17" fill="#00ff00"/>
<rect x="1133" y="454" width="3" height="12" fill="#00ff00"/>
<rect x="1138" y="451" width="1" height="21" fill="#ff0000"/>
<rect x="1137" y="454" width="3" height="12" fill="#ff0000"/>
<rect x="1142" y="453" width="1" height="11" fill="#00ff00"/>
<rect x="1141" y="454" width="3" height="8" fill="#00ff00"/>
<rect x="1146" y="460" width="1" height="16" fill="#00ff00"/>
<rect x="1145" y="461" width="3" height="11" fill="#00ff00"/>
<rect x="1150" y="466" width="1" height="14" fill="#ff0000"/>
<rect x="1149" y="468" width="3" height="4" fill="#ff0000"/>
<rect x="1154" y="449" width="1" height="28" fill="#ff0000"/>
<rect x="1153" y="465" width="3" height="5" fill="#ff0000"/>
<rect x="1158" y="464" width="1" height="23" fill="#00ff00"/>
<rect x="1157" y="466" width="3" height="20" fill="#00ff00"/>
<rect x="1162" y="483" width="1" height="35" fill="#00ff00"/>
<rect x="1161" y="484" width="3" height="33" fill="#00ff00"/>
<rect x="1166" y="509" width="1" height="9" fill="#ff0000"/>
<rect x="1165" y="511" width="3" height="6" fill="#ff0000"/>
<rect x="1170" y="509" width="1" height="13" fill="#00ff00"/>
<rect x="1169" y="512" width="3" height="6" fill="#00ff00"/>
<rect x="1174" y="507" width="1" height="16" fill="#ff0000"/>
<rect x="1173" y="509" width="3" height="10" fill="#ff0000"/>
<rect x="1178" y="504" width="1" height="14" fill="#ff0000"/>
<rect x="1177" y="510" width="3" height="3" fill="#ff0000"/>
<rect x="1182" y="473" width="1" height="37" fill="#ff0000"/>
<rect x="1181" y="479" width="3" height="29" fill="#ff0000"/>
<rect x="1186" y="478" width="1" height="22" fill="#00ff00"/>
<rect x="1185" y="479" width="3" height="15" fill="#00ff00"/>
<rect x="1190" y="491" width="1" height="9" fill="#00ff00"/>
<rect x="1189" y="492" width="3" height="7" fill="#00ff00"/>
<rect x="1194" y="493" width="1" height="15" fill="#00ff00"/>
<rect x="1193" y="496" width="3" height="10" fill="#00ff00"/>
<rect x="1198" y="489" width="1" height="30" fill="#00ff00"/>
<rect x="1197" y="503" width="3" height="13" fill="#00ff00"/>
<rect x="1202" y="509" width="1" height="19" fill="#ff0000"/>
<rect x="1201" y="511" width="3" height="5" fill="#ff0000"/>
<rect x="1206" y="498" width="1" height="20" fill="#ff0000"/>
<rect x="1205" y="511" width="3" height="1" fill="#ff0000"/>
<rect x="1210" y="506" width="1" height="14" fill="#ff0000"/>
<rect x="1209" y="509" width="3" height="3" fill="#ff0000"/>
<rect x="1214" y="503" width="1" height="6" fill="#00ff00"/>
<rect x="1213" y="506" width="3" height="2" fill="#00ff00"/>
<rect x="1218" y="485" width="1" height="26" fill="#ff0000"/>
<rect x="1217" y="486" width="3" height="20" fill="#ff0000"/>
<rect x="1222" y="483" width="1" height="23" fill="#00ff00"/>
<rect x="1221" y="486" width="3" height="20" fill="#00ff00"/>
<rect x="1226" y="451" width="1" height="57" fill="#ff0000"/>
<rect x="1225" y="454" width="3" height="52" fill="#ff0000"/>
<rect x="1230" y="434" width="1" height="34" fill="#ff0000"/>
<rect x="1229" y="442" width="3" height="14" fill="#ff0000"/>
<rect x="1234" y="440" width="1" height="31" fill="#00ff00"/>
<rect x="1233" y="441" width="3" height="12" fill="#00ff00"/>
<rect x="1238" y="447" width="1" height="15" fill="#00ff00"/>
<rect x="1237" y="451" width="3" height="6" fill="#00ff00"/>
<rect x="1242" y="440" width="1" height="36" fill="#00ff00"/>
<rect x="1241" y="455" width="3" height="14" fill="#00ff00"/>
<rect x="1246" y="468" width="1" height="54" fill="#00ff00"/>
<rect x="1245" y="468" width="3" height="53" fill="#00ff00"/>
<rect x="1250" y="460" width="1" height="64" fill="#ff0000"/>
<rect x="1249" y="510" width="3" height="13" fill="#ff0000"/>
<rect x="1254" y="502" width="1" height="41" fill="#00ff00"/>
<rect x="1253" y="510" width="3" height="33" fill="#00ff00"/>
<rect x="1258" y="522" width="1" height="23" fill="#ff0000"/>
<rect x="1257" y="541" width="3" height="3" fill="#ff0000"/>
<rect x="1262" y="540" width="1" height="6" fill="#00ff00"/>
<rect x="1261" y="541" width="3" height="4" fill="#00ff00"/>
<rect x="1266" y="537" width="1" height="9" fill="#00ff00"/>
<rect x="1265" y="538" width="3" height="7" fill="#00ff00"/>
<polyline points="2.5,498.4 6.5,499.3 10.5,500.5 14.5,501.7 18.5,502.7 22.5,503.7 26.5,504.4 30.5,504.7 34.5,504.8 38.5,504.8 42.5,504.7 46.5,504.1 50.5,503.3 54.5,501.8 58.5,500.1 62.5,498.4 66.5,496.3 70.5,494.1 74.5,491.9 78.5,489.7 82.5,487.5 86.5,485.3 90.5,483.1 94.5,481.1 98.5,480.6 102.5,479.5 106.5,478.4 110.5,477.9 114.5,476.8 118.5,476.5 122.5,476.2 126.5,476.0 130.5,476.2 134.5,476.7 138.5,477.3 142.5,478.0 146.5,479.3 150.5,480.6 154.5,481.1 158.5,481.8 162.5,482.1 166.5,482.9 170.5,484.2 174.5,485.8 178.5,487.8 182.5,490.1 186.5,492.7 190.5,495.9 194.5,498.9 198.5,502.0 202.5,504.9 206.5,507.9 210.5,511.1 214.5,513.8 218.5,515.8 222.5,516.6 226.5,518.8 230.5,520.7 234.5,522.4 238.5,524.1 242.5,525.8 246.5,527.3 250.5,528.7 254.5,529.9 258.5,530.8 262.5,531.8 266.5,531.7 270.5,531.6 274.5,531.9 278.5,532.2 282.5,532.1 286.5,531.8 290.5,531.3 294.5,530.3 298.5,528.9 302.5,527.2 306.5,525.2 310.5,522.0 314.5,518.9 318.5,515.7 322.5,512.5 326.5,509.4 330.5,506.0 334.5,503.2 338.5,500.9 342.5,499.4 346.5,497.2 350.5,495.3 354.5,493.5 358.5,491.6 362.5,489.6 366.5,487.7 370.5,486.1 374.5,484.6 378.5,482.5 382.5,480.3 386.5,478.5 390.5,476.3 394.5,473.4 398.5,470.9 402.5,468.8 406.5,467.3 410.5,465.4 414.5,463.7 418.5,461.7 422.5,460.0 426.5,457.4 430.5,452.4 434.5,447.9 438.5,442.2 442.5,435.3 446.5,429.0 450.5,422.5 454.5,413.5 458.5,400.8 462.5,388.6 466.5,377.6 470.5,365.8 474.5,352.7 478.5,340.5 482.5,329.5 486.5,321.4 490.5,312.8 494.5,305.4 498.5,296.3 502.5,287.9 506.5,278.7 510.5,270.8 514.5,263.7 518.5,256.1 522.5,248.6 526.5,242.3 530.5,236.1 534.5,230.3 538.5,224.8 542.5,219.3 546.5,215.0 550.5,213.8 554.5,210.2 558.5,207.5 562.5,207.2 566.5,206.2 570.5,205.3 574.5,205.2 578.5,209.2 582.5,213.6 586.5,216.3 590.5,219.5 594.5,224.5 598.5,229.4 602.5,233.4 606.5,234.7 610.5,234.5 614.5,233.2 618.5,234.1 622.5,235.1 626.5,235.9 630.5,237.6 634.5,239.9 638.5,242.2 642.5,243.2 646.5,242.9 650.5,242.2 654.5,241.1 658.5,239.8 662.5,238.3 666.5,238.2 670.5,238.5 674.5,240.4 678.5,242.3 682.5,242.3 686.5,242.7 690.5,243.6 694.5,247.4 698.5,250.8 702.5,253.5 706.5,256.4 710.5,259.7 714.5,264.2 718.5,268.9 722.5,273.4 726.5,277.3 730.5,284.1 734.5,290.6 738.5,297.6 742.5,303.6 746.5,311.2 750.5,315.1 754.5,318.3 758.5,321.5 762.5,325.6 766.5,330.0 770.5,335.2 774.5,340.1 778.5,345.0 782.5,350.0 786.5,354.1 790.5,357.8 794.5,360.9 798.5,363.8 802.5,367.1 806.5,370.4 810.5,373.2 814.5,375.4 818.5,377.4 822.5,379.1 826.5,381.5 830.5,383.6 834.5,384.2 838.5,383.5 842.5,383.0 846.5,382.3 850.5,380.6 854.5,379.1 858.5,377.2 862.5,375.4 866.5,374.1 870.5,374.4 874.5,374.6 878.5,375.0 882.5,375.9 886.5,377.2 890.5,378.8 894.5,381.1 898.5,382.8 902.5,384.7 906.5,386.4 910.5,387.8 914.5,390.2 918.5,392.4 922.5,395.5 926.5,398.2 930.5,401.1 934.5,403.5 938.5,406.8 942.5,409.9 946.5,411.6 950.5,413.5 954.5,415.4 958.5,418.3 962.5,421.2 966.5,424.9 970.5,428.3 974.5,431.6 978.5,435.3 982.5,439.6 986.5,443.1 990.5,446.7 994.5,450.4 998.5,454.3 1002.5,457.3 1006.5,459.8 1010.5,462.4 1014.5,465.0 1018.5,468.2 1022.5,471.5 1026.5,475.0 1030.5,478.2 1034.5,481.3 1038.5,484.3 1042.5,487.3 1046.5,490.7 1050.5,493.9 1054.5,495.5 1058.5,496.5 1062.5,497.7 1066.5,499.8 1070.5,501.7 1074.5,503.5 1078.5,504.4 1082.5,505.3 1086.5,505.4 1090.5,506.1 1094.5,506.7 1098.5,505.6 1102.5,504.2 1106.5,502.2 1110.5,500.3 1114.5,498.2 1118.5,496.2 1122.5,494.6 1126.5,492.4 1130.5,490.7 1134.5,488.9 1138.5,486.7 1142.5,484.6 1146.5,482.3 1150.5,479.9 1154.5,477.7 1158.5,476.8 1162.5,476.5 1166.5,475.6 1170.5,475.4 1174.5,475.9 1178.5,476.2 1182.5,475.4 1186.5,475.3 1190.5,475.4 1194.5,475.6 1198.5,476.4 1202.5,476.7 1206.5,477.4 1210.5,477.8 1214.5,478.3 1218.5,479.3 1222.5,480.9 1226.5,481.4 1230.5,481.4 1234.5,482.2 1238.5,483.0 1242.5,484.0 1246.5,487.1 1250.5,488.9 1254.5,491.5 1258.5,494.4 1262.5,497.2 1266.5,499.6" fill="none" stroke="#0000ff" stroke-width="1"/>
<polyline points="2.5,517.0 6.5,514.8 10.5,512.6 14.5,509.9 18.5,505.6 22.5,501.8 26.5,498.0 30.5,494.7 34.5,493.7 38.5,492.6 42.5,491.3 46.5,489.3 50.5,486.6 54.5,482.8 58.5,480.6 62.5,477.9 66.5,475.8 70.5,474.4 74.5,472.8 78.5,471.6 82.5,470.9 86.5,470.4 90.5,468.7 94.5,467.5 98.5,467.1 102.5,468.1 106.5,468.7 110.5,469.2 114.5,470.6 118.5,472.1 122.5,474.2 126.5,476.4 130.5,478.2 134.5,480.5 138.5,483.2 142.5,485.9 146.5,489.9 150.5,493.3 154.5,494.6 158.5,494.9 162.5,496.9 166.5,499.0 170.5,500.3 174.5,502.7 178.5,505.4 182.5,508.0 186.5,511.1 190.5,515.6 194.5,519.1 198.5,523.0 202.5,525.8 206.5,528.9 210.5,532.9 214.5,536.2 218.5,539.1 222.5,540.4 226.5,542.8 230.5,544.0 234.5,544.8 238.5,544.9 242.5,545.1 246.5,543.6 250.5,542.1 254.5,540.2 258.5,538.7 262.5,537.1 266.5,534.1 270.5,531.4 274.5,529.2 278.5,528.2 282.5,525.4 286.5,522.8 290.5,519.4 294.5,516.0 298.5,512.1 302.5,507.9 306.5,503.5 310.5,498.9 314.5,493.6 318.5,488.6 322.5,484.6 326.5,481.2 330.5,477.3 334.5,474.1 338.5,472.4 342.5,470.9 346.5,469.7 350.5,469.1 354.5,468.9 358.5,468.4 362.5,469.0 366.5,470.1 370.5,471.6 374.5,473.6 378.5,474.4 382.5,474.7 386.5,475.1 390.5,473.7 394.5,470.3 398.5,467.1 402.5,464.5 406.5,462.7 410.5,459.3 414.5,456.2 418.5,452.2 422.5,448.6 426.5,442.1 430.5,429.9 434.5,419.5 438.5,406.9 442.5,392.1 446.5,379.9 450.5,368.1 454.5,351.1 458.5,326.6 462.5,302.3 466.5,281.5 470.5,259.4 474.5,235.4 478.5,212.3 482.5,194.9 486.5,189.2 490.5,182.2 494.5,180.5 498.5,176.6 502.5,172.3 506.5,166.9 510.5,168.1 514.5,176.6 518.5,183.1 522.5,188.1 526.5,198.1 530.5,209.4 534.5,220.0 538.5,227.9 542.5,229.8 546.5,232.4 550.5,233.6 554.5,235.0 558.5,234.7 562.5,238.9 566.5,241.4 570.5,242.9 574.5,242.1 578.5,242.1 582.5,240.9 586.5,239.1 590.5,236.3 594.5,234.6 598.5,233.9 602.5,234.3 606.5,234.1 610.5,234.2 614.5,235.6 618.5,234.4 622.5,234.3 626.5,232.6 630.5,237.6 634.5,242.4 638.5,244.4 642.5,245.9 646.5,248.2 650.5,247.2 654.5,245.1 658.5,241.8 662.5,237.5 666.5,240.5 670.5,244.8 674.5,248.4 678.5,250.1 682.5,252.6 686.5,252.2 690.5,250.9 694.5,253.2 698.5,258.4 702.5,263.6 706.5,269.6 710.5,276.2 714.5,286.8 718.5,299.4 722.5,309.6 726.5,317.4 730.5,327.9 734.5,339.1 738.5,352.9 742.5,364.9 746.5,377.4 750.5,382.7 754.5,386.9 758.5,390.1 762.5,394.3 766.5,398.7 770.5,399.4 774.5,397.7 778.5,395.1 782.5,393.1 786.5,390.5 790.5,388.9 794.5,384.0 798.5,379.1 802.5,372.4 806.5,370.7 810.5,368.6 814.5,368.7 818.5,369.4 822.5,368.9 826.5,368.9 830.5,369.5 834.5,370.9 838.5,371.3 842.5,371.5 846.5,369.9 850.5,370.2 854.5,371.8 858.5,374.6 862.5,375.6 866.5,379.2 870.5,380.7 874.5,380.9 878.5,381.3 882.5,382.1 886.5,384.9 890.5,387.7 894.5,392.5 898.5,394.8 902.5,398.2 906.5,402.8 910.5,407.6 914.5,411.8 918.5,415.4 922.5,418.3 926.5,421.7 930.5,425.2 934.5,429.8 938.5,435.7 942.5,439.0 946.5,439.3 950.5,439.0 954.5,440.6 958.5,443.4 962.5,446.2 966.5,449.4 970.5,451.9 974.5,455.9 978.5,459.8 982.5,464.1 986.5,469.2 990.5,473.2 994.5,474.3 998.5,476.4 1002.5,480.1 1006.5,484.1 1010.5,488.5 1014.5,492.4 1018.5,495.5 1022.5,498.1 1026.5,502.9 1030.5,507.4 1034.5,510.4 1038.5,511.3 1042.5,513.1 1046.5,515.9 1050.5,518.4 1054.5,518.2 1058.5,519.6 1062.5,520.3 1066.5,519.5 1070.5,517.7 1074.5,516.2 1078.5,513.9 1082.5,511.1 1086.5,507.6 1090.5,505.1 1094.5,503.9 1098.5,499.0 1102.5,493.2 1106.5,487.1 1110.5,483.4 1114.5,478.1 1118.5,473.1 1122.5,468.9 1126.5,464.1 1130.5,461.0 1134.5,459.1 1138.5,455.6 1142.5,453.6 1146.5,451.8 1150.5,450.0 1154.5,450.6 1158.5,452.6 1162.5,458.1 1166.5,463.1 1170.5,469.4 1174.5,474.9 1178.5,480.1 1182.5,483.8 1186.5,486.5 1190.5,488.9 1194.5,492.5 1198.5,496.4 1202.5,499.2 1206.5,502.3 1210.5,505.4 1214.5,507.0 1218.5,504.9 1222.5,504.4 1226.5,499.9 1230.5,495.1 1234.5,491.0 1238.5,489.4 1242.5,487.6 1246.5,489.1 1250.5,489.5 1254.5,491.4 1258.5,493.6 1262.5,495.9 1266.5,498.4" fill="none" stroke="#ff0000" stroke-width="1"/>
<polyline points="2.5,505.6 6.5,504.0 10.5,499.6 14.5,495.3 18.5,490.9 22.5,488.3 26.5,483.9 30.5,481.5 34.5,481.7 38.5,480.3 42.5,481.5 46.5,482.5 50.5,480.1 54.5,476.9 58.5,473.5 62.5,468.3 66.5,463.1 70.5,463.3 74.5,462.9 78.5,463.1 82.5,464.3 86.5,466.3 90.5,465.9 94.5,465.5 98.5,468.9 102.5,474.7 106.5,475.5 110.5,478.3 114.5,482.3 118.5,482.3 122.5,480.3 126.5,484.9 130.5,488.1 134.5,490.7 138.5,495.5 142.5,498.9 146.5,503.5 150.5,507.7 154.5,508.5 158.5,507.3 162.5,506.3 166.5,503.9 170.5,501.9 174.5,504.9 178.5,509.9 182.5,516.1 186.5,521.9 190.5,533.7 194.5,541.5 198.5,548.1 202.5,553.3 206.5,557.5 210.5,556.7 214.5,555.1 218.5,551.5 222.5,544.7 226.5,540.9 230.5,536.1 234.5,533.9 238.5,532.1 242.5,535.3 246.5,536.1 250.5,536.1 254.5,535.3 258.5,536.1 262.5,534.9 266.5,529.9 270.5,525.1 274.5,520.7 278.5,515.3 282.5,508.3 286.5,504.5 290.5,500.3 294.5,495.1 298.5,490.1 302.5,486.9 306.5,482.1 310.5,477.9 314.5,473.5 318.5,469.1 322.5,464.9 326.5,462.7 330.5,460.3 334.5,460.7 338.5,462.9 342.5,465.9 346.5,468.1 350.5,472.3 354.5,475.5 358.5,475.9 362.5,476.9 366.5,478.9 370.5,480.5 374.5,482.1 378.5,481.7 382.5,478.7 386.5,474.5 390.5,466.5 394.5,453.7 398.5,445.5 402.5,439.5 406.5,437.5 410.5,435.1 414.5,436.5 418.5,435.1 422.5,434.3 426.5,422.7 430.5,399.9 434.5,378.9 438.5,351.9 442.5,316.3 446.5,292.5 450.5,280.7 454.5,254.1 458.5,214.5 462.5,186.1 466.5,159.5 470.5,131.9 474.5,110.9 478.5,114.3 482.5,122.1 486.5,141.5 490.5,162.9 494.5,198.3 498.5,216.5 502.5,229.1 506.5,218.3 510.5,214.5 514.5,203.5 518.5,204.1 522.5,203.9 526.5,219.1 530.5,226.5 534.5,235.9 538.5,247.7 542.5,258.1 546.5,259.1 550.5,266.1 554.5,258.5 558.5,248.1 562.5,243.9 566.5,239.7 570.5,229.7 574.5,224.1 578.5,224.7 582.5,224.5 586.5,220.1 590.5,217.3 594.5,226.7 598.5,235.1 602.5,240.7 606.5,252.1 610.5,252.7 614.5,250.7 618.5,245.1 622.5,239.7 626.5,225.5 630.5,233.5 634.5,243.7 638.5,252.7 642.5,252.5 646.5,260.9 650.5,253.7 654.5,242.9 658.5,233.3 662.5,228.7 666.5,231.1 670.5,243.9 674.5,254.3 678.5,262.9 682.5,267.9 686.5,266.3 690.5,260.7 694.5,266.1 698.5,275.9 702.5,291.5 706.5,302.3 710.5,313.9 714.5,327.3 718.5,343.5 722.5,360.1 726.5,377.9 730.5,399.1 734.5,409.3 738.5,417.5 742.5,420.9 746.5,428.5 750.5,419.5 754.5,409.9 758.5,395.7 762.5,384.7 766.5,373.7 770.5,373.9 774.5,373.7 778.5,374.3 782.5,374.7 786.5,376.1 790.5,379.9 794.5,379.1 798.5,375.9 802.5,370.5 806.5,364.1 810.5,353.1 814.5,352.9 818.5,357.7 822.5,363.9 826.5,368.9 830.5,376.3 834.5,380.5 838.5,379.9 842.5,383.3 846.5,382.7 850.5,381.1 854.5,378.3 858.5,379.7 862.5,375.5 866.5,379.1 870.5,382.3 874.5,383.3 878.5,382.7 882.5,387.3 886.5,392.1 890.5,400.1 894.5,412.3 898.5,421.1 902.5,427.7 906.5,431.3 910.5,433.9 914.5,433.7 918.5,433.1 922.5,435.3 926.5,435.3 930.5,432.7 934.5,433.1 938.5,444.3 942.5,450.1 946.5,449.3 950.5,450.9 954.5,451.5 958.5,449.1 962.5,451.5 966.5,462.3 970.5,469.9 974.5,475.7 978.5,481.3 982.5,485.5 986.5,488.1 990.5,492.7 994.5,495.9 998.5,496.7 1002.5,493.9 1006.5,492.5 1010.5,494.3 1014.5,499.9 1018.5,504.9 1022.5,512.9 1026.5,522.5 1030.5,528.7 1034.5,531.7 1038.5,529.7 1042.5,529.9 1046.5,529.3 1050.5,526.7 1054.5,518.5 1058.5,517.1 1062.5,512.7 1066.5,504.3 1070.5,497.9 1074.5,499.3 1078.5,496.9 1082.5,496.9 1086.5,495.5 1090.5,496.3 1094.5,495.1 1098.5,488.3 1102.5,479.1 1106.5,469.1 1110.5,457.9 1114.5,444.9 1118.5,440.1 1122.5,436.1 1126.5,433.7 1130.5,436.5 1134.5,443.9 1138.5,448.1 1142.5,452.9 1146.5,461.7 1150.5,464.3 1154.5,464.3 1158.5,470.5 1162.5,481.5 1166.5,489.5 1170.5,499.3 1174.5,508.1 1178.5,513.1 1182.5,505.7 1186.5,502.1 1190.5,498.3 1194.5,497.5 1198.5,498.5 1202.5,504.9 1206.5,508.5 1210.5,510.7 1214.5,511.1 1218.5,505.3 1222.5,504.1 1226.5,492.7 1230.5,479.3 1234.5,468.3 1238.5,462.3 1242.5,454.9 1246.5,468.1 1250.5,481.7 1254.5,499.7 1258.5,516.7 1262.5,531.9 1266.5,536.7" fill="none" stroke="#ffa500" stroke-width="1"/>
</g>
<g clip-path="url(#cr)">
<line x1="3" y1="612.5" x2="1594" y2="612.5" stroke="#c0c0c0" stroke-width="1" stroke-dasharray="3 3"/>
<line x1="3" y1="652.5" x2="1594" y2="652.5" stroke="#c0c0c0" stroke-width="1" stroke-dasharray="3 3"/>
<polyline points="2.5,629.6 6.5,633.3 10.5,624.4 14.5,622.8 18.5,626.7 22.5,623.2 26.5,621.1 30.5,619.0 34.5,627.0 38.5,625.3 42.5,630.4 46.5,627.3 50.5,617.2 54.5,621.4 58.5,619.7 62.5,618.8 66.5,616.7 70.5,621.4 74.5,623.6 78.5,623.1 82.5,625.5 86.5,624.9 90.5,621.3 94.5,624.0 98.5,636.9 102.5,644.4 106.5,629.8 110.5,631.8 114.5,636.0 118.5,635.0 122.5,637.4 126.5,640.5 130.5,638.7 134.5,641.5 138.5,645.3 142.5,643.9 146.5,649.0 150.5,645.6 154.5,638.7 158.5,638.1 162.5,637.4 166.5,640.5 170.5,638.5 174.5,645.1 178.5,648.6 182.5,650.4 186.5,651.8 190.5,659.3 194.5,655.1 198.5,655.9 202.5,654.4 206.5,653.6 210.5,654.3 214.5,646.5 218.5,641.6 222.5,631.4 226.5,637.9 230.5,636.3 234.5,637.7 238.5,634.9 242.5,638.2 246.5,639.2 250.5,635.0 254.5,634.4 258.5,636.1 262.5,634.1 266.5,624.7 270.5,621.9 274.5,622.6 278.5,621.7 282.5,616.8 286.5,616.3 290.5,613.1 294.5,611.7 298.5,611.3 302.5,610.5 306.5,607.3 310.5,605.7 314.5,604.1 318.5,603.8 322.5,603.5 326.5,604.8 330.5,602.7 334.5,613.0 338.5,620.6 342.5,623.2 346.5,621.5 350.5,625.1 354.5,628.5 358.5,624.4 362.5,629.5 366.5,631.1 370.5,632.7 374.5,635.9 378.5,624.4 382.5,620.6 386.5,618.5 390.5,611.4 394.5,605.7 398.5,611.0 402.5,614.0 406.5,624.3 410.5,617.6 414.5,617.2 418.5,615.0 422.5,619.4 426.5,609.3 430.5,599.4 434.5,602.8 438.5,599.4 442.5,596.8 446.5,604.2 450.5,602.9 454.5,598.2 458.5,593.9 462.5,598.8 466.5,605.6 470.5,604.3 474.5,602.4 478.5,606.8 482.5,615.2 486.5,628.6 490.5,627.5 494.5,632.3 498.5,625.2 502.5,627.0 506.5,624.0 510.5,627.4 514.5,627.6 518.5,626.6 522.5,628.1 526.5,634.9 530.5,632.9 534.5,634.4 538.5,635.0 542.5,635.5 546.5,635.6 550.5,638.2 554.5,627.8 558.5,626.3 562.5,632.2 566.5,632.3 570.5,630.1 574.5,624.1 578.5,628.0 582.5,633.1 586.5,629.9 590.5,629.1 594.5,632.9 598.5,635.5 602.5,638.1 606.5,639.6 610.5,629.0 614.5,630.4 618.5,630.0 622.5,633.2 626.5,627.2 630.5,636.0 634.5,638.8 638.5,637.3 642.5,632.2 646.5,633.6 650.5,629.2 654.5,629.4 658.5,629.0 662.5,628.3 666.5,636.8 670.5,641.0 674.5,638.6 678.5,636.3 682.5,631.9 686.5,633.8 690.5,635.0 694.5,642.7 698.5,644.4 702.5,645.4 706.5,641.9 710.5,643.6 714.5,651.0 718.5,653.8 722.5,654.8 726.5,652.6 730.5,655.6 734.5,655.0 738.5,656.7 742.5,652.1 746.5,653.8 750.5,639.5 754.5,638.4 758.5,636.6 762.5,636.8 766.5,639.4 770.5,639.4 774.5,637.4 778.5,636.3 782.5,636.3 786.5,640.8 790.5,643.5 794.5,634.4 798.5,630.4 802.5,627.7 806.5,631.3 810.5,628.6 814.5,634.9 818.5,637.0 822.5,635.8 826.5,637.6 830.5,637.9 834.5,640.0 838.5,635.0 842.5,639.3 846.5,635.1 850.5,633.8 854.5,634.5 858.5,636.4 862.5,632.1 866.5,639.9 870.5,637.8 874.5,634.7 878.5,634.0 882.5,638.4 886.5,645.5 890.5,647.7 894.5,650.2 898.5,642.8 902.5,643.5 906.5,646.4 910.5,647.5 914.5,646.6 918.5,638.2 922.5,642.7 926.5,643.0 930.5,639.8 934.5,643.4 938.5,650.8 942.5,646.8 946.5,636.1 950.5,637.1 954.5,639.2 958.5,643.4 962.5,646.4 966.5,648.4 970.5,644.0 974.5,643.7 978.5,647.5 982.5,648.9 986.5,649.4 990.5,648.5 994.5,644.8 998.5,646.2 1002.5,641.2 1006.5,643.9 1010.5,647.6 1014.5,650.3 1018.5,650.7 1022.5,651.7 1026.5,655.5 1030.5,653.8 1034.5,651.0 1038.5,639.9 1042.5,644.2 1046.5,647.6 1050.5,642.0 1054.5,630.6 1058.5,634.0 1062.5,634.0 1066.5,631.6 1070.5,630.6 1074.5,632.8 1078.5,630.0 1082.5,634.4 1086.5,629.4 1090.5,632.4 1094.5,630.9 1098.5,620.3 1102.5,620.3 1106.5,616.0 1110.5,616.9 1114.5,613.9 1118.5,616.3 1122.5,618.2 1126.5,615.6 1130.5,627.5 1134.5,631.0 1138.5,627.6 1142.5,630.1 1146.5,633.6 1150.5,632.5 1154.5,631.4 1158.5,638.4 1162.5,646.6 1166.5,644.6 1170.5,646.0 1174.5,642.7 1178.5,643.0 1182.5,631.4 1186.5,635.8 1190.5,637.3 1194.5,639.3 1198.5,642.1 1202.5,640.5 1206.5,640.5 1210.5,639.6 1214.5,638.7 1218.5,629.8 1222.5,636.8 1226.5,621.7 1230.5,619.1 1234.5,622.7 1238.5,624.1 1242.5,628.2 1246.5,641.6 1250.5,638.7 1254.5,645.0 1258.5,644.7 1262.5,645.3 1266.5,645.3" fill="none" stroke="#1e90ff" stroke-width="1"/>
</g>
<g clip-path="url(#cd)">
<rect x="2" y="750" width="1" height="3" fill="#c0c0c0"/>
<rect x="6" y="750" width="1" height="3" fill="#c0c0c0"/>
<rect x="10" y="750" width="1" height="3" fill="#c0c0c0"/>
<rect x="14" y="750" width="1" height="2" fill="#c0c0c0"/>
<rect x="18" y="750" width="1" height="1" fill="#c0c0c0"/>
<rect x="22" y="750" width="1" height="1" fill="#c0c0c0"/>
<rect x="26" y="749" width="1" height="2" fill="#c0c0c0"/>
<rect x="30" y="749" width="1" height="2" fill="#c0c0c0"/>
<rect x="34" y="749" width="1" height="2" fill="#c0c0c0"/>
<rect x="38" y="748" width="1" height="3" fill="#c0c0c0"/>
<rect x="42" y="749" width="1" height="2" fill="#c0c0c0"/>
<rect x="46" y="749" width="1" height="2" fill="#c0c0c0"/>
<rect x="50" y="748" width="1" height="3" fill="#c0c0c0"/>
<rect x="54" y="747" width="1" height="4" fill="#c0c0c0"/>
<rect x="58" y="747" width="1" height="4" fill="#c0c0c0"/>
<rect x="62" y="746" width="1" height="5" fill="#c0c0c0"/>
<rect x="66" y="745" width="1" height="6" fill="#c0c0c0"/>
<rect x="70" y="745" width="1" height="6" fill="#c0c0c0"/>
<rect x="74" y="746" width="1" height="5" fill="#c0c0c0"/>
<rect x="78" y="746" width="1" height="5" fill="#c0c0c0"/>
<rect x="82" y="746" width="1" height="5" fill="#c0c0c0"/>
<rect x="86" y="746" width="1" height="5" fill="#c0c0c0"/>
<rect x="90" y="746" width="1" height="5" fill="#c0c0c0"/>
<rect x="94" y="746" width="1" height="5" fill="#c0c0c0"/>
<rect x="98" y="747" width="1" height="4" fill="#c0c0c0"/>
<rect x="102" y="749" width="1" height="2" fill="#c0c0c0"/>
<rect x="106" y="749" width="1" height="2" fill="#c0c0c0"/>
<rect x="110" y="749" width="1" height="2" fill="#c0c0c0"/>
<rect x="114" y="750" width="1" height="1" fill="#c0c0c0"/>
<rect x="118" y="750" width="1" height="1" fill="#c0c0c0"/>
<rect x="122" y="750" width="1" height="2" fill="#c0c0c0"/>
<rect x="126" y="750" width="1" height="3" fill="#c0c0c0"/>
<rect x="130" y="750" width="1" height="3" fill="#c0c0c0"/>
<rect x="134" y="750" width="1" height="4" fill="#c0c0c0"/>
<rect x="138" y="750" width="1" height="5" fill="#c0c0c0"/>
<rect x="142" y="750" width="1" height="5" fill="#c0c0c0"/>
<rect x="146" y="750" width="1" height="6" fill="#c0c0c0"/>
<rect x="150" y="750" width="1" height="7" fill="#c0c0c0"/>
<rect x="154" y="750" width="1" height="7" fill="#c0c0c0"/>
<rect x="158" y="750" width="1" height="6" fill="#c0c0c0"/>
<rect x="162" y="750" width="1" height="6" fill="#c0c0c0"/>
<rect x="166" y="750" width="1" height="6" fill="#c0c0c0"/>
<rect x="170" y="750" width="1" height="6" fill="#c0c0c0"/>
<rect x="174" y="750" width="1" height="6" fill="#c0c0c0"/>
<rect x="178" y="750" width="1" height="7" fill="#c0c0c0"/>
<rect x="182" y="750" width="1" height="8" fill="#c0c0c0"/>
<rect x="186" y="750" width="1" height="9" fill="#c0c0c0"/>
<rect x="190" y="750" width="1" height="11" fill="#c0c0c0"/>
<rect x="194" y="750" width="1" height="12" fill="#c0c0c0"/>
<rect x="198" y="750" width="1" height="13" fill="#c0c0c0"/>
<rect x="202" y="750" width="1" height="13" fill="#c0c0c0"/>
<rect x="206" y="750" width="1" height="13" fill="#c0c0c0"/>
<rect x="210" y="750" width="1" height="13" fill="#c0c0c0"/>
<rect x="214" y="750" width="1" height="13" fill="#c0c0c0"/>
<rect x="218" y="750" width="1" height="12" fill="#c0c0c0"/>
<rect x="222" y="750" width="1" height="10" fill="#c0c0c0"/>
<rect x="226" y="750" width="1" height="9" fill="#c0c0c0"/>
<rect x="230" y="750" width="1" height="8" fill="#c0c0c0"/>
<rect x="234" y="750" width="1" height="8" fill="#c0c0c0"/>
<rect x="238" y="750" width="1" height="7" fill="#c0c0c0"/>
<rect x="242" y="750" width="1" height="7" fill="#c0c0c0"/>
<rect x="246" y="750" width="1" height="7" fill="#c0c0c0"/>
<rect x="250" y="750" width="1" height="6" fill="#c0c0c0"/>
<rect x="254" y="750" width="1" height="5" fill="#c0c0c0"/>
<rect x="258" y="750" width="1" height="5" fill="#c0c0c0"/>
<rect x="262" y="750" width="1" height="5" fill="#c0c0c0"/>
<rect x="266" y="750" width="1" height="3" fill="#c0c0c0"/>
<rect x="270" y="750" width="1" height="2" fill="#c0c0c0"/>
<rect x="274" y="750" width="1" height="1" fill="#c0c0c0"/>
<rect x="278" y="749" width="1" height="2" fill="#c0c0c0"/>
<rect x="282" y="748" width="1" height="3" fill="#c0c0c0"/>
<rect x="286" y="747" width="1" height="4" fill="#c0c0c0"/>
<rect x="290" y="746" width="1" height="5" fill="#c0c0c0"/>
<rect x="294" y="745" width="1" height="6" fill="#c0c0c0"/>
<rect x="298" y="744" width="1" height="7" fill="#c0c0c0"/>
<rect x="302" y="743" width="1" height="8" fill="#c0c0c0"/>
<rect x="306" y="743" width="1" height="8" fill="#c0c0c0"/>
<rect x="310" y="742" width="1" height="9" fill="#c0c0c0"/>
<rect x="314" y="741" width="1" height="10" fill="#c0c0c0"/>
<rect x="318" y="740" width="1" height="11" fill="#c0c0c0"/>
<rect x="322" y="740" width="1" height="11" fill="#c0c0c0"/>
<rect x="326" y="740" width="1" height="11" fill="#c0c0c0"/>
<rect x="330" y="739" width="1" height="12" fill="#c0c0c0"/>
<rect x="334" y="740" width="1" height="11" fill="#c0c0c0"/>
<rect x="338" y="741" width="1" height="10" fill="#c0c0c0"/>
<rect x="342" y="742" width="1" height="9" fill="#c0c0c0"/>
<rect x="346" y="742" width="1" height="9" fill="#c0c0c0"/>
<rect x="350" y="743" width="1" height="8" fill="#c0c0c0"/>
<rect x="354" y="744" width="1" height="7" fill="#c0c0c0"/>
<rect x="358" y="744" width="1" height="7" fill="#c0c0c0"/>
<rect x="362" y="745" width="1" height="6" fill="#c0c0c0"/>
<rect x="366" y="746" width="1" height="5" fill="#c0c0c0"/>
<rect x="370" y="747" width="1" height="4" fill="#c0c0c0"/>
<rect x="374" y="747" width="1" height="4" fill="#c0c0c0"/>
<rect x="378" y="747" width="1" height="4" fill="#c0c0c0"/>
<rect x="382" y="747" width="1" height="4" fill="#c0c0c0"/>
<rect x="386" y="746" width="1" height="5" fill="#c0c0c0"/>
<rect x="390" y="745" width="1" height="6" fill="#c0c0c0"/>
<rect x="394" y="743" width="1" height="8" fill="#c0c0c0"/>
<rect x="398" y="742" width="1" height="9" fill="#c0c0c0"/>
<rect x="402" y="742" width="1" height="9" fill="#c0c0c0"/>
<rect x="406" y="742" width="1" height="9" fill="#c0c0c0"/>
<rect x="410" y="742" width="1" height="9" fill="#c0c0c0"/>
<rect x="414" y="742" width="1" height="9" fill="#c0c0c0"/>
<rect x="418" y="741" width="1" height="10" fill="#c0c0c0"/>
<rect x="422" y="741" width="1" height="10" fill="#c0c0c0"/>
<rect x="426" y="739" width="1" height="12" fill="#c0c0c0"/>
<rect x="430" y="734" width="1" height="17" fill="#c0c0c0"/>
<rect x="434" y="731" width="1" height="20" fill="#c0c0c0"/>
<rect x="438" y="727" width="1" height="24" fill="#c0c0c0"/>
<rect x="442" y="722" width="1" height="29" fill="#c0c0c0"/>
<rect x="446" y="719" width="1" height="32" fill="#c0c0c0"/>
<rect x="450" y="717" width="1" height="34" fill="#c0c0c0"/>
<rect x="454" y="712" width="1" height="39" fill="#c0c0c0"/>
<rect x="458" y="704" width="1" height="47" fill="#c0c0c0"/>
<rect x="462" y="699" width="1" height="52" fill="#c0c0c0"/>
<rect x="466" y="697" width="1" height="54" fill="#c0c0c0"/>
<rect x="470" y="695" width="1" height="56" fill="#c0c0c0"/>
<rect x="474" y="692" width="1" height="59" fill="#c0c0c0"/>
<rect x="478" y="692" width="1" height="59" fill="#c0c0c0"/>
<rect x="482" y="695" width="1" height="56" fill="#c0c0c0"/>
<rect x="486" y="702" width="1" height="49" fill="#c0c0c0"/>
<rect x="490" y="707" width="1" height="44" fill="#c0c0c0"/>
<rect x="494" y="714" width="1" height="37" fill="#c0c0c0"/>
<rect x="498" y="717" width="1" height="34" fill="#c0c0c0"/>
<rect x="502" y="719" width="1" height="32" fill="#c0c0c0"/>
<rect x="506" y="721" width="1" height="30" fill="#c0c0c0"/>
<rect x="510" y="723" width="1" height="28" fill="#c0c0c0"/>
<rect x="514" y="726" width="1" height="25" fill="#c0c0c0"/>
<rect x="518" y="727" width="1" height="24" fill="#c0c0c0"/>
<rect x="522" y="729" width="1" height="22" fill="#c0c0c0"/>
<rect x="526" y="734" width="1" height="17" fill="#c0c0c0"/>
<rect x="530" y="737" width="1" height="14" fill="#c0c0c0"/>
<rect x="534" y="740" width="1" height="11" fill="#c0c0c0"/>
<rect x="538" y="742" width="1" height="9" fill="#c0c0c0"/>
<rect x="542" y="745" width="1" height="6" fill="#c0c0c0"/>
<rect x="546" y="746" width="1" height="5" fill="#c0c0c0"/>
<rect x="550" y="749" width="1" height="2" fill="#c0c0c0"/>
<rect x="554" y="748" width="1" height="3" fill="#c0c0c0"/>
<rect x="558" y="746" width="1" height="5" fill="#c0c0c0"/>
<rect x="562" y="747" width="1" height="4" fill="#c0c0c0"/>
<rect x="566" y="747" width="1" height="4" fill="#c0c0c0"/>
<rect x="570" y="747" width="1" height="4" fill="#c0c0c0"/>
<rect x="574" y="745" width="1" height="6" fill="#c0c0c0"/>
<rect x="578" y="745" width="1" height="6" fill="#c0c0c0"/>
<rect x="582" y="746" width="1" height="5" fill="#c0c0c0"/>
<rect x="586" y="746" width="1" height="5" fill="#c0c0c0"/>
<rect x="590" y="745" width="1" height="6" fill="#c0c0c0"/>
<rect x="594" y="746" width="1" height="5" fill="#c0c0c0"/>
<rect x="598" y="748" width="1" height="3" fill="#c0c0c0"/>
<rect x="602" y="750" width="1" height="1" fill="#c0c0c0"/>
<rect x="606" y="750" width="1" height="3" fill="#c0c0c0"/>
<rect x="610" y="750" width="1" height="2" fill="#c0c0c0"/>
<rect x="614" y="750" width="1" height="1" fill="#c0c0c0"/>
<rect x="618" y="750" width="1" height="1" fill="#c0c0c0"/>
<rect x="622" y="750" width="1" height="1" fill="#c0c0c0"/>
<rect x="626" y="748" width="1" height="3" fill="#c0c0c0"/>
<rect x="630" y="750" width="1" height="1" fill="#c0c0c0"/>
<rect x="634" y="750" width="1" height="3" fill="#c0c0c0"/>
<rect x="638" y="750" width="1" height="4" fill="#c0c0c0"/>
<rect x="642" y="750" width="1" height="4" fill="#c0c0c0"/>
<rect x="646" y="750" width="1" height="4" fill="#c0c0c0"/>
<rect x="650" y="750" width="1" height="2" fill="#c0c0c0"/>
<rect x="654" y="750" width="1" height="1" fill="#c0c0c0"/>
<rect x="658" y="750" width="1" height="1" fill="#c0c0c0"/>
<rect x="662" y="749" width="1" height="2" fill="#c0c0c0"/>
<rect x="666" y="750" width="1" height="1" fill="#c0c0c0"/>
<rect x="670" y="750" width="1" height="4" fill="#c0c0c0"/>
<rect x="674" y="750" width="1" height="5" fill="#c0c0c0"/>
<rect x="678" y="750" width="1" height="5" fill="#c0c0c0"/>
<rect x="682" y="750" width="1" height="5" fill="#c0c0c0"/>
<rect x="686" y="750" width="1" height="5" fill="#c0c0c0"/>
<rect x="690" y="750" width="1" height="5" fill="#c0c0c0"/>
<rect x="694" y="750" width="1" height="7" fill="#c0c0c0"/>
<rect x="698" y="750" width="1" height="9" fill="#c0c0c0"/>
<rect x="702" y="750" width="1" height="11" fill="#c0c0c0"/>
<rect x="706" y="750" width="1" height="12" fill="#c0c0c0"/>
<rect x="710" y="750" width="1" height="13" fill="#c0c0c0"/>
<rect x="714" y="750" width="1" height="17" fill="#c0c0c0"/>
<rect x="718" y="750" width="1" height="20" fill="#c0c0c0"/>
<rect x="722" y="750" width="1" height="23" fill="#c0c0c0"/>
<rect x="726" y="750" width="1" height="25" fill="#c0c0c0"/>
<rect x="730" y="750" width="1" height="28" fill="#c0c0c0"/>
<rect x="734" y="750" width="1" height="29" fill="#c0c0c0"/>
<rect x="738" y="750" width="1" height="31" fill="#c0c0c0"/>
<rect x="742" y="750" width="1" height="31" fill="#c0c0c0"/>
<rect x="746" y="750" width="1" height="32" fill="#c0c0c0"/>
<rect x="750" y="750" width="1" height="29" fill="#c0c0c0"/>
<rect x="754" y="750" width="1" height="26" fill="#c0c0c0"/>
<rect x="758" y="750" width="1" height="23" fill="#c0c0c0"/>
<rect x="762" y="750" width="1" height="21" fill="#c0c0c0"/>
<rect x="766" y="750" width="1" height="19" fill="#c0c0c0"/>
<rect x="770" y="750" width="1" height="18" fill="#c0c0c0"/>
<rect x="774" y="750" width="1" height="16" fill="#c0c0c0"/>
<rect x="778" y="750" width="1" height="15" fill="#c0c0c0"/>
<rect x="782" y="750" width="1" height="13" fill="#c0c0c0"/>
<rect x="786" y="750" width="1" height="13" fill="#c0c0c0"/>
<rect x="790" y="750" width="1" height="13" fill="#c0c0c0"/>
<rect x="794" y="750" width="1" height="12" fill="#c0c0c0"/>
<rect x="798" y="750" width="1" height="10" fill="#c0c0c0"/>
<rect x="802" y="750" width="1" height="7" fill="#c0c0c0"/>
<rect x="806" y="750" width="1" height="6" fill="#c0c0c0"/>
<rect x="810" y="750" width="1" height="5" fill="#c0c0c0"/>
<rect x="814" y="750" width="1" height="5" fill="#c0c0c0"/>
<rect x="818" y="750" width="1" height="5" fill="#c0c0c0"/>
<rect x="822" y="750" width="1" height="5" fill="#c0c0c0"/>
<rect x="826" y="750" width="1" height="5" fill="#c0c0c0"/>
<rect x="830" y="750" width="1" height="6" fill="#c0c0c0"/>
<rect x="834" y="750" width="1" height="6" fill="#c0c0c0"/>
<rect x="838" y="750" width="1" height="6" fill="#c0c0c0"/>
<rect x="842" y="750" width="1" height="6" fill="#c0c0c0"/>
<rect x="846" y="750" width="1" height="6" fill="#c0c0c0"/>
<rect x="850" y="750" width="1" height="6" fill="#c0c0c0"/>
<rect x="854" y="750" width="1" height="5" fill="#c0c0c0"/>
<rect x="858" y="750" width="1" height="5" fill="#c0c0c0"/>
<rect x="862" y="750" width="1" height="5" fill="#c0c0c0"/>
<rect x="866" y="750" width="1" height="5" fill="#c0c0c0"/>
<rect x="870" y="750" width="1" height="6" fill="#c0c0c0"/>
<rect x="874" y="750" width="1" height="5" fill="#c0c0c0"/>
<rect x="878" y="750" width="1" height="5" fill="#c0c0c0"/>
<rect x="882" y="750" width="1" height="5" fill="#c0c0c0"/>
<rect x="886" y="750" width="1" height="7" fill="#c0c0c0"/>
<rect x="890" y="750" width="1" height="9" fill="#c0c0c0"/>
<rect x="894" y="750" width="1" height="10" fill="#c0c0c0"/>
<rect x="898" y="750" width="1" height="11" fill="#c0c0c0"/>
<rect x="902" y="750" width="1" height="11" fill="#c0c0c0"/>
<rect x="906" y="750" width="1" height="12" fill="#c0c0c0"/>
<rect x="910" y="750" width="1" height="13" fill="#c0c0c0"/>
<rect x="914" y="750" width="1" height="13" fill="#c0c0c0"/>
<rect x="918" y="750" width="1" height="12" fill="#c0c0c0"/>
<rect x="922" y="750" width="1" height="12" fill="#c0c0c0"/>
<rect x="926" y="750" width="1" height="12" fill="#c0c0c0"/>
<rect x="930" y="750" width="1" height="12" fill="#c0c0c0"/>
<rect x="934" y="750" width="1" height="12" fill="#c0c0c0"/>
<rect x="938" y="750" width="1" height="13" fill="#c0c0c0"/>
<rect x="942" y="750" width="1" height="14" fill="#c0c0c0"/>
<rect x="946" y="750" width="1" height="13" fill="#c0c0c0"/>
<rect x="950" y="750" width="1" height="12" fill="#c0c0c0"/>
<rect x="954" y="750" width="1" height="11" fill="#c0c0c0"/>
<rect x="958" y="750" width="1" height="12" fill="#c0c0c0"/>
<rect x="962" y="750" width="1" height="13" fill="#c0c0c0"/>
<rect x="966" y="750" width="1" height="14" fill="#c0c0c0"/>
<rect x="970" y="750" width="1" height="14" fill="#c0c0c0"/>
<rect x="974" y="750" width="1" height="14" fill="#c0c0c0"/>
<rect x="978" y="750" width="1" height="15" fill="#c0c0c0"/>
<rect x="982" y="750" width="1" height="15" fill="#c0c0c0"/>
<rect x="986" y="750" width="1" height="16" fill="#c0c0c0"/>
<rect x="990" y="750" width="1" height="16" fill="#c0c0c0"/>
<rect x="994" y="750" width="1" height="15" fill="#c0c0c0"/>
<rect x="998" y="750" width="1" height="15" fill="#c0c0c0"/>
<rect x="1002" y="750" width="1" height="14" fill="#c0c0c0"/>
<rect x="1006" y="750" width="1" height="14" fill="#c0c0c0"/>
<rect x="1010" y="750" width="1" height="14" fill="#c0c0c0"/>
<rect x="1014" y="750" width="1" height="15" fill="#c0c0c0"/>
<rect x="1018" y="750" width="1" height="15" fill="#c0c0c0"/>
<rect x="1022" y="750" width="1" height="15" fill="#c0c0c0"/>
<rect x="1026" y="750" width="1" height="16" fill="#c0c0c0"/>
<rect x="1030" y="750" width="1" height="17" fill="#c0c0c0"/>
<rect x="1034" y="750" width="1" height="17" fill="#c0c0c0"/>
<rect x="1038" y="750" width="1" height="15" fill="#c0c0c0"/>
<rect x="1042" y="750" width="1" height="15" fill="#c0c0c0"/>
<rect x="1046" y="750" width="1" height="15" fill="#c0c0c0"/>
<rect x="1050" y="750" width="1" height="14" fill="#c0c0c0"/>
<rect x="1054" y="750" width="1" height="12" fill="#c0c0c0"/>
<rect x="1058" y="750" width="1" height="11" fill="#c0c0c0"/>
<rect x="1062" y="750" width="1" height="9" fill="#c0c0c0"/>
<rect x="1066" y="750" width="1" height="8" fill="#c0c0c0"/>
<rect x="1070" y="750" width="1" height="7" fill="#c0c0c0"/>
<rect x="1074" y="750" width="1" height="6" fill="#c0c0c0"/>
<rect x="1078" y="750" width="1" height="5" fill="#c0c0c0"/>
<rect x="1082" y="750" width="1" height="4" fill="#c0c0c0"/>
<rect x="1086" y="750" width="1" height="4" fill="#c0c0c0"/>
<rect x="1090" y="750" width="1" height="3" fill="#c0c0c0"/>
<rect x="1094" y="750" width="1" height="3" fill="#c0c0c0"/>
<rect x="1098" y="749" width="1" height="2" fill="#c0c0c0"/>
<rect x="1102" y="748" width="1" height="3" fill="#c0c0c0"/>
<rect x="1106" y="745" width="1" height="6" fill="#c0c0c0"/>
<rect x="1110" y="744" width="1" height="7" fill="#c0c0c0"/>
<rect x="1114" y="742" width="1" height="9" fill="#c0c0c0"/>
<rect x="1118" y="741" width="1" height="10" fill="#c0c0c0"/>
<rect x="1122" y="740" width="1" height="11" fill="#c0c0c0"/>
<rect x="1126" y="740" width="1" height="11" fill="#c0c0c0"/>
<rect x="1130" y="740" width="1" height="11" fill="#c0c0c0"/>
<rect x="1134" y="742" width="1" height="9" fill="#c0c0c0"/>
<rect x="1138" y="742" width="1" height="9" fill="#c0c0c0"/>
<rect x="1142" y="743" width="1" height="8" fill="#c0c0c0"/>
<rect x="1146" y="745" width="1" height="6" fill="#c0c0c0"/>
<rect x="1150" y="746" width="1" height="5" fill="#c0c0c0"/>
<rect x="1154" y="746" width="1" height="5" fill="#c0c0c0"/>
<rect x="1158" y="748" width="1" height="3" fill="#c0c0c0"/>
<rect x="1162" y="750" width="1" height="2" fill="#c0c0c0"/>
<rect x="1166" y="750" width="1" height="3" fill="#c0c0c0"/>
<rect x="1170" y="750" width="1" height="5" fill="#c0c0c0"/>
<rect x="1174" y="750" width="1" height="6" fill="#c0c0c0"/>
<rect x="1178" y="750" width="1" height="7" fill="#c0c0c0"/>
<rect x="1182" y="750" width="1" height="6" fill="#c0c0c0"/>
<rect x="1186" y="750" width="1" height="6" fill="#c0c0c0"/>
<rect x="1190" y="750" width="1" height="6" fill="#c0c0c0"/>
<rect x="1194" y="750" width="1" height="6" fill="#c0c0c0"/>
<rect x="1198" y="750" width="1" height="7" fill="#c0c0c0"/>
<rect x="1202" y="750" width="1" height="7" fill="#c0c0c0"/>
<rect x="1206" y="750" width="1" height="8" fill="#c0c0c0"/>
<rect x="1210" y="750" width="1" height="7" fill="#c0c0c0"/>
<rect x="1214" y="750" width="1" height="7" fill="#c0c0c0"/>
<rect x="1218" y="750" width="1" height="6" fill="#c0c0c0"/>
<rect x="1222" y="750" width="1" height="6" fill="#c0c0c0"/>
<rect x="1226" y="750" width="1" height="3" fill="#c0c0c0"/>
<rect x="1230" y="749" width="1" height="2" fill="#c0c0c0"/>
<rect x="1234" y="748" width="1" height="3" fill="#c0c0c0"/>
<rect x="1238" y="747" width="1" height="4" fill="#c0c0c0"/>
<rect x="1242" y="747" width="1" height="4" fill="#c0c0c0"/>
<rect x="1246" y="749" width="1" height="2" fill="#c0c0c0"/>
<rect x="1250" y="750" width="1" height="2" fill="#c0c0c0"/>
<rect x="1254" y="750" width="1" height="4" fill="#c0c0c0"/>
<rect x="1258" y="750" width="1" height="7" fill="#c0c0c0"/>
<rect x="1262" y="750" width="1" height="8" fill="#c0c0c0"/>
<rect x="1266" y="750" width="1" height="10" fill="#c0c0c0"/>
<polyline points="2.5,757.1 6.5,756.6 10.5,756.0 14.5,755.3 18.5,754.5 22.5,753.7 26.5,752.9 30.5,751.9 34.5,750.9 38.5,750.5 42.5,750.1 46.5,749.8 50.5,749.4 54.5,749.0 58.5,748.7 62.5,748.3 66.5,748.0 70.5,747.6 74.5,747.3 78.5,747.0 82.5,746.6 86.5,746.5 90.5,746.4 94.5,746.3 98.5,746.5 102.5,746.9 106.5,747.3 110.5,747.7 114.5,748.1 118.5,748.6 122.5,749.1 126.5,749.7 130.5,750.3 134.5,750.9 138.5,751.4 142.5,752.0 146.5,752.7 150.5,753.4 154.5,754.0 158.5,754.5 162.5,754.9 166.5,755.2 170.5,755.5 174.5,755.7 178.5,755.9 182.5,756.1 186.5,756.3 190.5,756.7 194.5,757.3 198.5,758.1 202.5,758.8 206.5,759.6 210.5,760.4 214.5,761.0 218.5,761.5 222.5,761.6 226.5,761.5 230.5,761.1 234.5,760.6 238.5,759.9 242.5,759.2 246.5,758.5 250.5,757.7 254.5,757.0 258.5,756.5 262.5,755.9 266.5,755.4 270.5,754.7 274.5,754.1 278.5,753.4 282.5,752.5 286.5,751.6 290.5,750.7 294.5,749.7 298.5,748.6 302.5,747.6 306.5,746.7 310.5,745.7 314.5,744.8 318.5,744.0 322.5,743.2 326.5,742.5 330.5,741.9 334.5,741.4 338.5,741.1 342.5,741.0 346.5,741.0 350.5,741.2 354.5,741.6 358.5,742.1 362.5,742.7 366.5,743.5 370.5,744.2 374.5,745.0 378.5,745.6 382.5,746.2 386.5,746.5 390.5,746.7 394.5,746.6 398.5,746.3 402.5,745.8 406.5,745.3 410.5,744.7 414.5,744.1 418.5,743.4 422.5,742.8 426.5,742.1 430.5,741.1 434.5,739.8 438.5,738.2 442.5,735.9 446.5,733.4 450.5,730.6 454.5,727.4 458.5,723.3 462.5,718.8 466.5,714.6 470.5,710.6 474.5,706.8 478.5,703.5 482.5,700.8 486.5,699.1 490.5,698.6 494.5,699.7 498.5,701.7 502.5,704.2 506.5,707.1 510.5,710.5 514.5,714.2 518.5,717.8 522.5,720.9 526.5,723.8 530.5,726.3 534.5,728.9 538.5,731.4 542.5,734.1 546.5,736.7 550.5,739.3 554.5,741.5 558.5,743.4 562.5,744.8 566.5,746.0 570.5,746.9 574.5,747.2 578.5,747.2 582.5,747.1 586.5,746.7 590.5,746.5 594.5,746.5 598.5,746.7 602.5,747.0 606.5,747.5 610.5,748.1 614.5,748.8 618.5,749.2 622.5,749.7 626.5,750.0 630.5,750.4 634.5,750.8 638.5,751.2 642.5,751.3 646.5,751.5 650.5,751.6 654.5,751.8 658.5,751.7 662.5,751.7 666.5,751.8 670.5,751.8 674.5,751.9 678.5,752.1 682.5,752.2 686.5,752.4 690.5,752.7 694.5,753.5 698.5,754.5 702.5,755.7 706.5,756.6 710.5,757.5 714.5,758.8 718.5,760.5 722.5,762.6 726.5,764.9 730.5,767.2 734.5,769.4 738.5,771.5 742.5,773.7 746.5,775.7 750.5,777.1 754.5,777.7 758.5,777.7 762.5,777.2 766.5,776.3 770.5,775.1 774.5,773.5 778.5,771.6 782.5,769.6 786.5,767.9 790.5,766.4 794.5,765.1 798.5,763.9 802.5,762.6 806.5,761.3 810.5,759.9 814.5,758.8 818.5,757.9 822.5,757.0 826.5,756.1 830.5,755.4 834.5,755.1 838.5,754.9 842.5,754.9 846.5,755.1 850.5,755.2 854.5,755.2 858.5,755.2 862.5,755.1 866.5,755.1 870.5,755.0 874.5,754.9 878.5,754.8 882.5,754.7 886.5,754.8 890.5,755.2 894.5,755.8 898.5,756.5 902.5,757.1 906.5,757.8 910.5,758.7 914.5,759.6 918.5,760.3 922.5,760.9 926.5,761.3 930.5,761.4 934.5,761.5 938.5,761.8 942.5,762.0 946.5,762.0 950.5,761.8 954.5,761.7 958.5,761.7 962.5,761.8 966.5,762.0 970.5,762.3 974.5,762.3 978.5,762.4 982.5,762.7 986.5,763.2 990.5,763.7 994.5,764.1 998.5,764.3 1002.5,764.4 1006.5,764.4 1010.5,764.4 1014.5,764.4 1018.5,764.4 1022.5,764.4 1026.5,764.4 1030.5,764.6 1034.5,764.8 1038.5,764.9 1042.5,765.0 1046.5,765.2 1050.5,765.1 1054.5,764.8 1058.5,764.2 1062.5,763.4 1066.5,762.4 1070.5,761.3 1074.5,760.2 1078.5,759.1 1082.5,757.9 1086.5,756.7 1090.5,755.7 1094.5,754.9 1098.5,753.9 1102.5,752.9 1106.5,751.7 1110.5,750.5 1114.5,749.2 1118.5,747.8 1122.5,746.5 1126.5,745.1 1130.5,743.8 1134.5,743.0 1138.5,742.4 1142.5,742.2 1146.5,742.2 1150.5,742.6 1154.5,743.2 1158.5,744.0 1162.5,745.2 1166.5,746.6 1170.5,748.0 1174.5,749.4 1178.5,750.8 1182.5,752.0 1186.5,753.0 1190.5,754.0 1194.5,754.8 1198.5,755.4 1202.5,755.8 1206.5,756.1 1210.5,756.2 1214.5,756.2 1218.5,756.2 1222.5,756.3 1226.5,756.0 1230.5,755.3 1234.5,754.4 1238.5,753.3 1242.5,752.2 1246.5,751.4 1250.5,750.8 1254.5,750.6 1258.5,750.7 1262.5,751.3 1266.5,752.3" fill="none" stroke="#ff0000" stroke-width="1" stroke-dasharray="3 3"/>
</g>
</svg>
</body></html>
